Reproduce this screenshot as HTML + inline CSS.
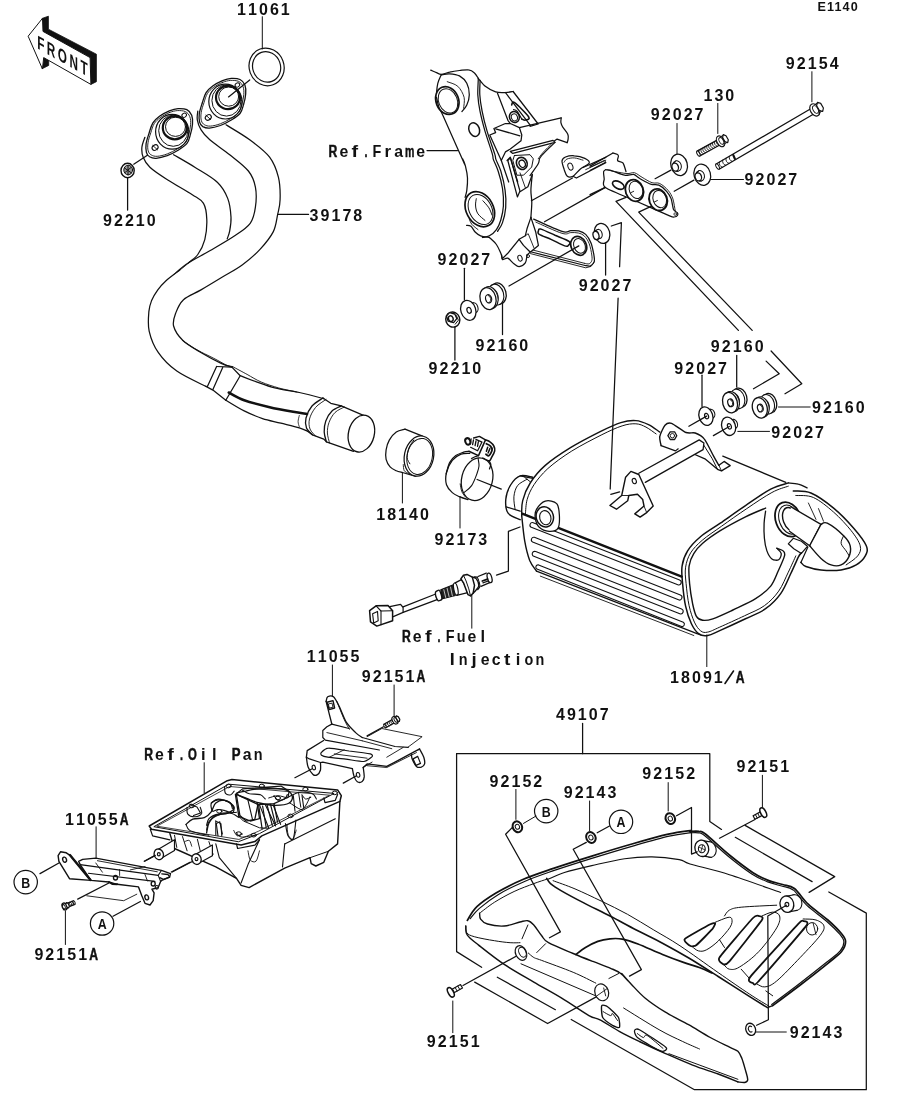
<!DOCTYPE html>
<html><head><meta charset="utf-8"><title>Exhaust diagram</title>
<style>html,body{margin:0;padding:0;background:#fff}svg{display:block;will-change:transform;filter:grayscale(1)}text{font-family:"Liberation Sans",sans-serif;fill:#111}path,ellipse{stroke-linecap:round;stroke-linejoin:round}</style></head>
<body><svg width="914" height="1103" viewBox="0 0 914 1103">
<rect width="914" height="1103" fill="#fff"/>
<text x="817.6" y="10.5" font-size="12.6" font-weight="bold" letter-spacing="1.1">E1140</text>
<text x="241.5" y="15" font-size="16" font-weight="bold" text-anchor="middle">1</text>
<text x="252.4" y="15" font-size="16" font-weight="bold" text-anchor="middle">1</text>
<text x="263.4" y="15" font-size="16" font-weight="bold" text-anchor="middle">0</text>
<text x="274.4" y="15" font-size="16" font-weight="bold" text-anchor="middle">6</text>
<text x="285.3" y="15" font-size="16" font-weight="bold" text-anchor="middle">1</text>
<text x="107.5" y="225.7" font-size="16" font-weight="bold" text-anchor="middle">9</text>
<text x="118.5" y="225.7" font-size="16" font-weight="bold" text-anchor="middle">2</text>
<text x="129.4" y="225.7" font-size="16" font-weight="bold" text-anchor="middle">2</text>
<text x="140.3" y="225.7" font-size="16" font-weight="bold" text-anchor="middle">1</text>
<text x="151.3" y="225.7" font-size="16" font-weight="bold" text-anchor="middle">0</text>
<text x="314" y="220.6" font-size="16" font-weight="bold" text-anchor="middle">3</text>
<text x="324.9" y="220.6" font-size="16" font-weight="bold" text-anchor="middle">9</text>
<text x="335.9" y="220.6" font-size="16" font-weight="bold" text-anchor="middle">1</text>
<text x="346.9" y="220.6" font-size="16" font-weight="bold" text-anchor="middle">7</text>
<text x="357.8" y="220.6" font-size="16" font-weight="bold" text-anchor="middle">8</text>
<text transform="translate(333 156.5) scale(0.76 1)" font-size="16" font-weight="bold" text-anchor="middle" stroke="#111" stroke-width="0.5">R</text>
<text transform="translate(343.9 156.5) scale(0.99 1)" font-size="16" font-weight="bold" text-anchor="middle">e</text>
<text transform="translate(354.9 156.5) scale(1.24 1)" font-size="16" font-weight="bold" text-anchor="middle">f</text>
<text transform="translate(365.9 156.5) scale(0.67 1)" font-size="16" font-weight="bold" text-anchor="middle" stroke="#111" stroke-width="0.5">.</text>
<text transform="translate(376.8 156.5) scale(0.90 1)" font-size="16" font-weight="bold" text-anchor="middle">F</text>
<text transform="translate(387.8 156.5) scale(1.06 1)" font-size="16" font-weight="bold" text-anchor="middle">r</text>
<text transform="translate(398.7 156.5) scale(0.99 1)" font-size="16" font-weight="bold" text-anchor="middle">a</text>
<text transform="translate(409.6 156.5) scale(0.66 1)" font-size="16" font-weight="bold" text-anchor="middle" stroke="#111" stroke-width="0.5">m</text>
<text transform="translate(420.6 156.5) scale(0.99 1)" font-size="16" font-weight="bold" text-anchor="middle">e</text>
<text x="790.3" y="69.1" font-size="16" font-weight="bold" text-anchor="middle">9</text>
<text x="801.2" y="69.1" font-size="16" font-weight="bold" text-anchor="middle">2</text>
<text x="812.2" y="69.1" font-size="16" font-weight="bold" text-anchor="middle">1</text>
<text x="823.1" y="69.1" font-size="16" font-weight="bold" text-anchor="middle">5</text>
<text x="834.1" y="69.1" font-size="16" font-weight="bold" text-anchor="middle">4</text>
<text x="707.9" y="100.7" font-size="16" font-weight="bold" text-anchor="middle">1</text>
<text x="718.9" y="100.7" font-size="16" font-weight="bold" text-anchor="middle">3</text>
<text x="729.8" y="100.7" font-size="16" font-weight="bold" text-anchor="middle">0</text>
<text x="655.2" y="120.2" font-size="16" font-weight="bold" text-anchor="middle">9</text>
<text x="666.2" y="120.2" font-size="16" font-weight="bold" text-anchor="middle">2</text>
<text x="677.1" y="120.2" font-size="16" font-weight="bold" text-anchor="middle">0</text>
<text x="688.1" y="120.2" font-size="16" font-weight="bold" text-anchor="middle">2</text>
<text x="699" y="120.2" font-size="16" font-weight="bold" text-anchor="middle">7</text>
<text x="749" y="185.2" font-size="16" font-weight="bold" text-anchor="middle">9</text>
<text x="760" y="185.2" font-size="16" font-weight="bold" text-anchor="middle">2</text>
<text x="770.9" y="185.2" font-size="16" font-weight="bold" text-anchor="middle">0</text>
<text x="781.9" y="185.2" font-size="16" font-weight="bold" text-anchor="middle">2</text>
<text x="792.8" y="185.2" font-size="16" font-weight="bold" text-anchor="middle">7</text>
<text x="442" y="264.9" font-size="16" font-weight="bold" text-anchor="middle">9</text>
<text x="452.9" y="264.9" font-size="16" font-weight="bold" text-anchor="middle">2</text>
<text x="463.9" y="264.9" font-size="16" font-weight="bold" text-anchor="middle">0</text>
<text x="474.9" y="264.9" font-size="16" font-weight="bold" text-anchor="middle">2</text>
<text x="485.8" y="264.9" font-size="16" font-weight="bold" text-anchor="middle">7</text>
<text x="583.1" y="290.7" font-size="16" font-weight="bold" text-anchor="middle">9</text>
<text x="594.1" y="290.7" font-size="16" font-weight="bold" text-anchor="middle">2</text>
<text x="605" y="290.7" font-size="16" font-weight="bold" text-anchor="middle">0</text>
<text x="616" y="290.7" font-size="16" font-weight="bold" text-anchor="middle">2</text>
<text x="626.9" y="290.7" font-size="16" font-weight="bold" text-anchor="middle">7</text>
<text x="480" y="351.2" font-size="16" font-weight="bold" text-anchor="middle">9</text>
<text x="490.9" y="351.2" font-size="16" font-weight="bold" text-anchor="middle">2</text>
<text x="501.9" y="351.2" font-size="16" font-weight="bold" text-anchor="middle">1</text>
<text x="512.9" y="351.2" font-size="16" font-weight="bold" text-anchor="middle">6</text>
<text x="523.8" y="351.2" font-size="16" font-weight="bold" text-anchor="middle">0</text>
<text x="433" y="374" font-size="16" font-weight="bold" text-anchor="middle">9</text>
<text x="443.9" y="374" font-size="16" font-weight="bold" text-anchor="middle">2</text>
<text x="454.9" y="374" font-size="16" font-weight="bold" text-anchor="middle">2</text>
<text x="465.9" y="374" font-size="16" font-weight="bold" text-anchor="middle">1</text>
<text x="476.8" y="374" font-size="16" font-weight="bold" text-anchor="middle">0</text>
<text x="715.3" y="352.1" font-size="16" font-weight="bold" text-anchor="middle">9</text>
<text x="726.2" y="352.1" font-size="16" font-weight="bold" text-anchor="middle">2</text>
<text x="737.2" y="352.1" font-size="16" font-weight="bold" text-anchor="middle">1</text>
<text x="748.1" y="352.1" font-size="16" font-weight="bold" text-anchor="middle">6</text>
<text x="759.1" y="352.1" font-size="16" font-weight="bold" text-anchor="middle">0</text>
<text x="678.7" y="374" font-size="16" font-weight="bold" text-anchor="middle">9</text>
<text x="689.7" y="374" font-size="16" font-weight="bold" text-anchor="middle">2</text>
<text x="700.6" y="374" font-size="16" font-weight="bold" text-anchor="middle">0</text>
<text x="711.6" y="374" font-size="16" font-weight="bold" text-anchor="middle">2</text>
<text x="722.5" y="374" font-size="16" font-weight="bold" text-anchor="middle">7</text>
<text x="816.4" y="413.1" font-size="16" font-weight="bold" text-anchor="middle">9</text>
<text x="827.4" y="413.1" font-size="16" font-weight="bold" text-anchor="middle">2</text>
<text x="838.3" y="413.1" font-size="16" font-weight="bold" text-anchor="middle">1</text>
<text x="849.2" y="413.1" font-size="16" font-weight="bold" text-anchor="middle">6</text>
<text x="860.2" y="413.1" font-size="16" font-weight="bold" text-anchor="middle">0</text>
<text x="775.7" y="438.1" font-size="16" font-weight="bold" text-anchor="middle">9</text>
<text x="786.7" y="438.1" font-size="16" font-weight="bold" text-anchor="middle">2</text>
<text x="797.6" y="438.1" font-size="16" font-weight="bold" text-anchor="middle">0</text>
<text x="808.6" y="438.1" font-size="16" font-weight="bold" text-anchor="middle">2</text>
<text x="819.5" y="438.1" font-size="16" font-weight="bold" text-anchor="middle">7</text>
<text x="380.6" y="519.5" font-size="16" font-weight="bold" text-anchor="middle">1</text>
<text x="391.6" y="519.5" font-size="16" font-weight="bold" text-anchor="middle">8</text>
<text x="402.5" y="519.5" font-size="16" font-weight="bold" text-anchor="middle">1</text>
<text x="413.5" y="519.5" font-size="16" font-weight="bold" text-anchor="middle">4</text>
<text x="424.4" y="519.5" font-size="16" font-weight="bold" text-anchor="middle">0</text>
<text x="439" y="544.9" font-size="16" font-weight="bold" text-anchor="middle">9</text>
<text x="449.9" y="544.9" font-size="16" font-weight="bold" text-anchor="middle">2</text>
<text x="460.9" y="544.9" font-size="16" font-weight="bold" text-anchor="middle">1</text>
<text x="471.9" y="544.9" font-size="16" font-weight="bold" text-anchor="middle">7</text>
<text x="482.8" y="544.9" font-size="16" font-weight="bold" text-anchor="middle">3</text>
<text transform="translate(406.3 642.3) scale(0.76 1)" font-size="16" font-weight="bold" text-anchor="middle" stroke="#111" stroke-width="0.5">R</text>
<text transform="translate(417.2 642.3) scale(0.99 1)" font-size="16" font-weight="bold" text-anchor="middle">e</text>
<text transform="translate(428.2 642.3) scale(1.24 1)" font-size="16" font-weight="bold" text-anchor="middle">f</text>
<text transform="translate(439.1 642.3) scale(0.67 1)" font-size="16" font-weight="bold" text-anchor="middle" stroke="#111" stroke-width="0.5">.</text>
<text transform="translate(450.1 642.3) scale(0.90 1)" font-size="16" font-weight="bold" text-anchor="middle">F</text>
<text transform="translate(461.1 642.3) scale(0.90 1)" font-size="16" font-weight="bold" text-anchor="middle">u</text>
<text transform="translate(472 642.3) scale(0.99 1)" font-size="16" font-weight="bold" text-anchor="middle">e</text>
<text transform="translate(482.9 642.3) scale(1.03 1)" font-size="16" font-weight="bold" text-anchor="middle">l</text>
<text transform="translate(452.3 665) scale(1.12 1)" font-size="16" font-weight="bold" text-anchor="middle">I</text>
<text transform="translate(463.2 665) scale(0.90 1)" font-size="16" font-weight="bold" text-anchor="middle">n</text>
<text transform="translate(474.2 665) scale(1.17 1)" font-size="16" font-weight="bold" text-anchor="middle">j</text>
<text transform="translate(485.1 665) scale(0.99 1)" font-size="16" font-weight="bold" text-anchor="middle">e</text>
<text transform="translate(496.1 665) scale(0.99 1)" font-size="16" font-weight="bold" text-anchor="middle">c</text>
<text transform="translate(507.1 665) scale(1.20 1)" font-size="16" font-weight="bold" text-anchor="middle">t</text>
<text transform="translate(518 665) scale(1.03 1)" font-size="16" font-weight="bold" text-anchor="middle">i</text>
<text transform="translate(529 665) scale(0.90 1)" font-size="16" font-weight="bold" text-anchor="middle">o</text>
<text transform="translate(539.9 665) scale(0.90 1)" font-size="16" font-weight="bold" text-anchor="middle">n</text>
<text x="674.5" y="683" font-size="16" font-weight="bold" text-anchor="middle">1</text>
<text x="685.5" y="683" font-size="16" font-weight="bold" text-anchor="middle">8</text>
<text x="696.4" y="683" font-size="16" font-weight="bold" text-anchor="middle">0</text>
<text x="707.4" y="683" font-size="16" font-weight="bold" text-anchor="middle">9</text>
<text x="718.3" y="683" font-size="16" font-weight="bold" text-anchor="middle">1</text>
<path d="M725 683.5 L733.5 671" fill="none" stroke="#111" stroke-width="1.6" />
<text transform="translate(740.2 683) scale(0.76 1)" font-size="16" font-weight="bold" text-anchor="middle" stroke="#111" stroke-width="0.5">A</text>
<text x="311.2" y="662.3" font-size="16" font-weight="bold" text-anchor="middle">1</text>
<text x="322.1" y="662.3" font-size="16" font-weight="bold" text-anchor="middle">1</text>
<text x="333.1" y="662.3" font-size="16" font-weight="bold" text-anchor="middle">0</text>
<text x="344" y="662.3" font-size="16" font-weight="bold" text-anchor="middle">5</text>
<text x="355" y="662.3" font-size="16" font-weight="bold" text-anchor="middle">5</text>
<text x="366.2" y="682.3" font-size="16" font-weight="bold" text-anchor="middle">9</text>
<text x="377.1" y="682.3" font-size="16" font-weight="bold" text-anchor="middle">2</text>
<text x="388.1" y="682.3" font-size="16" font-weight="bold" text-anchor="middle">1</text>
<text x="399" y="682.3" font-size="16" font-weight="bold" text-anchor="middle">5</text>
<text x="410" y="682.3" font-size="16" font-weight="bold" text-anchor="middle">1</text>
<text transform="translate(420.9 682.3) scale(0.76 1)" font-size="16" font-weight="bold" text-anchor="middle" stroke="#111" stroke-width="0.5">A</text>
<text transform="translate(148.6 760.1) scale(0.76 1)" font-size="16" font-weight="bold" text-anchor="middle" stroke="#111" stroke-width="0.5">R</text>
<text transform="translate(159.5 760.1) scale(0.99 1)" font-size="16" font-weight="bold" text-anchor="middle">e</text>
<text transform="translate(170.5 760.1) scale(1.24 1)" font-size="16" font-weight="bold" text-anchor="middle">f</text>
<text transform="translate(181.4 760.1) scale(0.67 1)" font-size="16" font-weight="bold" text-anchor="middle" stroke="#111" stroke-width="0.5">.</text>
<text transform="translate(192.4 760.1) scale(0.71 1)" font-size="16" font-weight="bold" text-anchor="middle" stroke="#111" stroke-width="0.5">O</text>
<text transform="translate(203.3 760.1) scale(1.03 1)" font-size="16" font-weight="bold" text-anchor="middle">i</text>
<text transform="translate(214.3 760.1) scale(1.03 1)" font-size="16" font-weight="bold" text-anchor="middle">l</text>
<text transform="translate(236.2 760.1) scale(0.82 1)" font-size="16" font-weight="bold" text-anchor="middle" stroke="#111" stroke-width="0.5">P</text>
<text transform="translate(247.1 760.1) scale(0.99 1)" font-size="16" font-weight="bold" text-anchor="middle">a</text>
<text transform="translate(258.1 760.1) scale(0.90 1)" font-size="16" font-weight="bold" text-anchor="middle">n</text>
<text x="69.5" y="824.5" font-size="16" font-weight="bold" text-anchor="middle">1</text>
<text x="80.5" y="824.5" font-size="16" font-weight="bold" text-anchor="middle">1</text>
<text x="91.4" y="824.5" font-size="16" font-weight="bold" text-anchor="middle">0</text>
<text x="102.3" y="824.5" font-size="16" font-weight="bold" text-anchor="middle">5</text>
<text x="113.3" y="824.5" font-size="16" font-weight="bold" text-anchor="middle">5</text>
<text transform="translate(124.2 824.5) scale(0.76 1)" font-size="16" font-weight="bold" text-anchor="middle" stroke="#111" stroke-width="0.5">A</text>
<text x="38.9" y="959.6" font-size="16" font-weight="bold" text-anchor="middle">9</text>
<text x="49.8" y="959.6" font-size="16" font-weight="bold" text-anchor="middle">2</text>
<text x="60.8" y="959.6" font-size="16" font-weight="bold" text-anchor="middle">1</text>
<text x="71.8" y="959.6" font-size="16" font-weight="bold" text-anchor="middle">5</text>
<text x="82.7" y="959.6" font-size="16" font-weight="bold" text-anchor="middle">1</text>
<text transform="translate(93.7 959.6) scale(0.76 1)" font-size="16" font-weight="bold" text-anchor="middle" stroke="#111" stroke-width="0.5">A</text>
<text x="560.4" y="719.7" font-size="16" font-weight="bold" text-anchor="middle">4</text>
<text x="571.4" y="719.7" font-size="16" font-weight="bold" text-anchor="middle">9</text>
<text x="582.3" y="719.7" font-size="16" font-weight="bold" text-anchor="middle">1</text>
<text x="593.2" y="719.7" font-size="16" font-weight="bold" text-anchor="middle">0</text>
<text x="604.2" y="719.7" font-size="16" font-weight="bold" text-anchor="middle">7</text>
<text x="494" y="786.7" font-size="16" font-weight="bold" text-anchor="middle">9</text>
<text x="504.9" y="786.7" font-size="16" font-weight="bold" text-anchor="middle">2</text>
<text x="515.9" y="786.7" font-size="16" font-weight="bold" text-anchor="middle">1</text>
<text x="526.9" y="786.7" font-size="16" font-weight="bold" text-anchor="middle">5</text>
<text x="537.8" y="786.7" font-size="16" font-weight="bold" text-anchor="middle">2</text>
<text x="568.1" y="797.7" font-size="16" font-weight="bold" text-anchor="middle">9</text>
<text x="579.1" y="797.7" font-size="16" font-weight="bold" text-anchor="middle">2</text>
<text x="590" y="797.7" font-size="16" font-weight="bold" text-anchor="middle">1</text>
<text x="601" y="797.7" font-size="16" font-weight="bold" text-anchor="middle">4</text>
<text x="611.9" y="797.7" font-size="16" font-weight="bold" text-anchor="middle">3</text>
<text x="646.8" y="779.3" font-size="16" font-weight="bold" text-anchor="middle">9</text>
<text x="657.8" y="779.3" font-size="16" font-weight="bold" text-anchor="middle">2</text>
<text x="668.7" y="779.3" font-size="16" font-weight="bold" text-anchor="middle">1</text>
<text x="679.6" y="779.3" font-size="16" font-weight="bold" text-anchor="middle">5</text>
<text x="690.6" y="779.3" font-size="16" font-weight="bold" text-anchor="middle">2</text>
<text x="740.9" y="772" font-size="16" font-weight="bold" text-anchor="middle">9</text>
<text x="751.9" y="772" font-size="16" font-weight="bold" text-anchor="middle">2</text>
<text x="762.8" y="772" font-size="16" font-weight="bold" text-anchor="middle">1</text>
<text x="773.8" y="772" font-size="16" font-weight="bold" text-anchor="middle">5</text>
<text x="784.7" y="772" font-size="16" font-weight="bold" text-anchor="middle">1</text>
<text x="431.3" y="1047" font-size="16" font-weight="bold" text-anchor="middle">9</text>
<text x="442.2" y="1047" font-size="16" font-weight="bold" text-anchor="middle">2</text>
<text x="453.2" y="1047" font-size="16" font-weight="bold" text-anchor="middle">1</text>
<text x="464.1" y="1047" font-size="16" font-weight="bold" text-anchor="middle">5</text>
<text x="475.1" y="1047" font-size="16" font-weight="bold" text-anchor="middle">1</text>
<text x="794.1" y="1038.4" font-size="16" font-weight="bold" text-anchor="middle">9</text>
<text x="805.1" y="1038.4" font-size="16" font-weight="bold" text-anchor="middle">2</text>
<text x="816" y="1038.4" font-size="16" font-weight="bold" text-anchor="middle">1</text>
<text x="827" y="1038.4" font-size="16" font-weight="bold" text-anchor="middle">4</text>
<text x="837.9" y="1038.4" font-size="16" font-weight="bold" text-anchor="middle">3</text>
<ellipse cx="25.7" cy="882.1" rx="11.7" ry="11.7" fill="none" stroke="#111" stroke-width="1.2"/>
<text transform="translate(25.7 887.7) scale(0.8 1)" font-size="15.5" font-weight="bold" text-anchor="middle">B</text>
<ellipse cx="102.1" cy="923.5" rx="11.7" ry="11.7" fill="none" stroke="#111" stroke-width="1.2"/>
<text transform="translate(102.1 929.1) scale(0.8 1)" font-size="15.5" font-weight="bold" text-anchor="middle">A</text>
<ellipse cx="546.2" cy="811.1" rx="11.7" ry="11.7" fill="none" stroke="#111" stroke-width="1.2"/>
<text transform="translate(546.2 816.7) scale(0.8 1)" font-size="15.5" font-weight="bold" text-anchor="middle">B</text>
<ellipse cx="621" cy="821.8" rx="11.7" ry="11.7" fill="none" stroke="#111" stroke-width="1.2"/>
<text transform="translate(621 827.4) scale(0.8 1)" font-size="15.5" font-weight="bold" text-anchor="middle">A</text>
<path d="M262.3 16.7 L262.3 49" fill="none" stroke="#111" stroke-width="1" />
<path d="M811.9 71.7 L811.9 101.8" fill="none" stroke="#111" stroke-width="1" />
<path d="M717.8 103.4 L717.8 133.5" fill="none" stroke="#111" stroke-width="1" />
<path d="M677 123.5 L677 154" fill="none" stroke="#111" stroke-width="1" />
<path d="M710 179.5 L743.5 179.5" fill="none" stroke="#111" stroke-width="1" />
<path d="M402.4 473 L402.4 503" fill="none" stroke="#111" stroke-width="1" />
<path d="M460 496.4 L460 528" fill="none" stroke="#111" stroke-width="1" />
<path d="M471.8 594.9 L471.8 628.2" fill="none" stroke="#111" stroke-width="1" />
<path d="M332.4 665 L332.4 696.7" fill="none" stroke="#111" stroke-width="1" />
<path d="M394.1 685 L394.1 716.6" fill="none" stroke="#111" stroke-width="1" />
<path d="M706.8 634.9 L706.8 666.6" fill="none" stroke="#111" stroke-width="1" />
<path d="M778.5 407 L810.2 407" fill="none" stroke="#111" stroke-width="1" />
<path d="M737.8 431.4 L769.5 431.4" fill="none" stroke="#111" stroke-width="1" />
<path d="M204.2 762.7 L204.2 792.7" fill="none" stroke="#111" stroke-width="1" />
<path d="M96.1 826.8 L96.1 857.8" fill="none" stroke="#111" stroke-width="1" />
<path d="M65.4 911.2 L65.4 944.5" fill="none" stroke="#111" stroke-width="1" />
<path d="M515.9 789.4 L515.9 819.4" fill="none" stroke="#111" stroke-width="1" />
<path d="M589.6 801 L589.6 831" fill="none" stroke="#111" stroke-width="1" />
<path d="M452.8 1001 L452.8 1032.7" fill="none" stroke="#111" stroke-width="1" />
<path d="M523.5 823.4 L535.9 816.1" fill="none" stroke="#111" stroke-width="1" />
<path d="M668.2 782.6 L668.2 811" fill="none" stroke="#111" stroke-width="1" />
<path d="M762.4 775.3 L762.4 807.5" fill="none" stroke="#111" stroke-width="1" />
<path d="M756.4 1032 L786.3 1032" fill="none" stroke="#111" stroke-width="1" />
<path d="M42.5 18.3 L48.4 16.2 L48.4 29.2 L96.4 54.2 L96.4 81.7 L90.9 84.4 L90.1 57.6 L43 31.4Z" fill="#111" stroke="#111" stroke-width="0.8" />
<path d="M43.7 57.6 L48.7 60.4 L48.7 65.4 L42.5 68.6Z" fill="#111" stroke="#111" stroke-width="0.8" />
<path d="M28.4 35.9 L42.5 18.3 L43 31.4 L90.1 57.6 L90.9 84.4 L43.7 57.6 L42.5 68.6Z" fill="#fff" stroke="#111" stroke-width="1" />
<g transform="translate(37.2,48.3) matrix(1 0.56 0 1 0 0) scale(0.62 1)"><text x="0" y="0" font-size="19" font-weight="bold" letter-spacing="4.0">FRONT</text></g>
<ellipse cx="266.6" cy="66.9" rx="17.4" ry="19" fill="none" stroke="#111" stroke-width="1.2" transform="rotate(-20 266.6 66.9)"/>
<ellipse cx="266.6" cy="66.9" rx="13.9" ry="15.4" fill="none" stroke="#111" stroke-width="1.2" transform="rotate(-20 266.6 66.9)"/>
<path d="M226 124.8 C229.9 127.3 242.4 134.4 249.7 139.8 C257 145.2 264.9 151 269.6 157.2 C274.4 163.5 276.6 170.1 278.4 177.2 C280.1 184.3 280.3 193.4 280.1 199.6 C280 205.9 278.8 209.2 277.6 214.6 C276.5 220 276.1 226.1 273.2 231.9 C270.2 237.7 265.1 243.9 260 249.4 C254.9 254.9 248.7 260.2 242.5 264.7 C236.3 269.3 229.8 272.6 222.8 276.8 C215.9 281 207.5 286.1 201 289.9 C194.4 293.7 187.7 295.9 183.5 299.7 C179.3 303.6 177.4 308.5 175.8 312.9 C174.2 317.2 172.4 321.4 173.6 326 C174.8 330.6 178.3 336 182.9 340.5 C187.5 344.9 194.9 348.9 201.3 352.7 C207.7 356.5 216.1 361 221.2 363.4 C226.3 365.8 230.1 366.5 231.9 367.1" fill="none" stroke="#111" stroke-width="1.25" />
<path d="M197.8 111.1 C197.7 112.5 196.8 116.7 197.3 119.8 C197.8 122.9 199 126.5 201.1 129.8 C203.1 133.1 205 135.6 209.8 139.8 C214.6 143.9 223.3 149.6 229.7 154.7 C236.2 159.9 244.2 165.6 248.4 171 C252.7 176.4 254.3 181.1 255.4 187.2 C256.6 193.2 256.3 201.1 255.4 207.1 C254.6 213.2 253.6 218.6 250.2 223.3 C246.7 228.1 241.5 231.2 234.7 235.8 C228 240.4 217.5 246.3 209.8 250.8 C202.1 255.3 194.3 259 188.6 262.8 C182.8 266.5 176.8 272 175.4 273.2 C173.9 274.4 181.4 268.8 179.8 270 C178.3 271.2 169.7 277.4 166 280.7 C162.4 284 160.2 286.6 157.8 289.9 C155.4 293.2 153.1 297.1 151.6 300.6 C150.2 304.2 149.3 306.3 148.9 311.4 C148.5 316.5 147.6 324.4 149.2 331.3 C150.8 338.2 153.8 346.1 158.4 352.7 C163 359.4 168.8 365.5 176.8 371.1 C184.7 376.7 201 383.9 205.9 386.4" fill="none" stroke="#111" stroke-width="1.25" />
<path d="M144.9 137.3 C144.4 138.9 142.2 143.9 141.9 147.3 C141.6 150.6 141.8 153.9 143.2 157.2 C144.5 160.6 145.9 163.5 149.9 167.2 C153.9 171 160.3 175.1 167.4 179.7 C174.4 184.3 186.3 190.7 192.3 194.7 C198.3 198.6 201.1 199.2 203.5 203.4 C206 207.5 206.6 213.6 206.8 219.6 C207 225.6 206.3 233.7 204.8 239.6 C203.3 245.4 200.5 250.7 197.8 254.5 C195.1 258.4 190.1 261.4 188.6 262.8" fill="none" stroke="#111" stroke-width="1.25" />
<path d="M173.6 154.7 C177.1 156.8 187.5 162.6 194.8 167.2 C202.1 171.8 211.8 177 217.3 182.2 C222.8 187.4 225.5 192.6 227.7 198.4 C230 204.2 230.7 211.7 231 217.1 C231.3 222.5 230.4 227.2 229.7 230.8 C229.1 234.4 227.7 237.5 227.2 238.8" fill="none" stroke="#111" stroke-width="1.25" />
<path d="M192.3 259.5 C190.7 261 185.5 265.8 182.3 268.2 C179.2 270.7 175.1 273.4 173.6 274.5" fill="none" stroke="#111" stroke-width="0.8" />
<path d="M222.5 80.6 C225.6 79.4 228.4 78.6 231.3 78.4 C234.2 78.3 237.8 78.4 240 79.5 C242.3 80.6 243.9 82.6 244.9 85 C245.8 87.4 246 90.5 245.7 93.8 C245.5 97 244.5 101.4 243.5 104.7 C242.6 108 242.1 110.9 240 113.5 C238 116 234.6 118 231.3 120 C228 122 224 124.1 220.4 125.5 C216.7 126.8 212.3 127.9 209.4 128.1 C206.5 128.3 204.5 127.6 202.8 126.6 C201.2 125.6 200.1 124.4 199.6 122.2 C199 120 198.9 116.7 199.3 113.5 C199.8 110.2 201.3 106 202.4 102.5 C203.5 99.1 204.4 95.4 206.1 92.7 C207.8 89.9 210 88.1 212.7 86.1 C215.4 84.1 219.4 81.9 222.5 80.6Z" fill="#fff" stroke="#111" stroke-width="1.3" />
<path d="M222.5 82.4 C225.3 81.3 227.9 80.6 230.5 80.4 C233.2 80.3 236.5 80.4 238.6 81.4 C240.7 82.4 242.2 84.3 243 86.5 C243.9 88.7 244 91.5 243.8 94.5 C243.6 97.5 242.7 101.6 241.8 104.6 C240.9 107.6 240.5 110.3 238.6 112.6 C236.7 115 233.6 116.8 230.5 118.7 C227.5 120.5 223.8 122.5 220.5 123.7 C217.1 125 213.1 126 210.4 126.1 C207.7 126.3 205.9 125.6 204.4 124.7 C202.9 123.8 201.9 122.7 201.4 120.7 C200.8 118.7 200.7 115.7 201.2 112.6 C201.6 109.6 202.9 105.8 204 102.6 C205 99.4 205.8 96 207.4 93.5 C209 91 210.9 89.3 213.4 87.5 C216 85.6 219.6 83.6 222.5 82.4Z" fill="none" stroke="#111" stroke-width="0.9" />
<ellipse cx="225.4" cy="101.6" rx="16.6" ry="17.4" fill="none" stroke="#111" stroke-width="1.2"/>
<ellipse cx="226.5" cy="100.5" rx="14.6" ry="15.6" fill="none" stroke="#111" stroke-width="1.0"/>
<ellipse cx="228" cy="97.5" rx="12" ry="11.6" fill="none" stroke="#111" stroke-width="2.2"/>
<ellipse cx="228.7" cy="96.6" rx="10" ry="9.6" fill="none" stroke="#111" stroke-width="1.0"/>
<ellipse cx="237.4" cy="85" rx="2.4" ry="2" fill="none" stroke="#111" stroke-width="1.0" transform="rotate(-35 237.4 85)"/>
<ellipse cx="208.3" cy="117.4" rx="3.2" ry="2.5" fill="none" stroke="#111" stroke-width="1.1" transform="rotate(-35 208.3 117.4)"/>
<path d="M205.9 115.2 L210.7 119.6" stroke="#111" stroke-width="0.9"/>
<path d="M249.7 79.9 L228.5 96.9" stroke="#111" stroke-width="1.25"/>
<path d="M169.3 110.8 C172.4 109.6 175.2 108.8 178.1 108.6 C181 108.5 184.6 108.6 186.8 109.7 C189.1 110.8 190.7 112.8 191.7 115.2 C192.6 117.6 192.8 120.7 192.5 124 C192.3 127.2 191.3 131.6 190.3 134.9 C189.4 138.2 188.9 141.1 186.8 143.7 C184.8 146.2 181.4 148.2 178.1 150.2 C174.8 152.2 170.8 154.3 167.2 155.7 C163.5 157 159.1 158.1 156.2 158.3 C153.3 158.5 151.3 157.8 149.6 156.8 C148 155.8 146.9 154.6 146.4 152.4 C145.8 150.2 145.7 146.9 146.1 143.7 C146.6 140.4 148.1 136.2 149.2 132.7 C150.3 129.3 151.2 125.6 152.9 122.9 C154.6 120.1 156.8 118.3 159.5 116.3 C162.2 114.3 166.2 112.1 169.3 110.8Z" fill="#fff" stroke="#111" stroke-width="1.3" />
<path d="M169.3 112.6 C172.1 111.5 174.7 110.8 177.3 110.6 C180 110.5 183.3 110.6 185.4 111.6 C187.5 112.6 189 114.5 189.8 116.7 C190.7 118.9 190.8 121.7 190.6 124.7 C190.4 127.7 189.5 131.8 188.6 134.8 C187.7 137.8 187.3 140.5 185.4 142.8 C183.5 145.2 180.4 147 177.3 148.9 C174.3 150.7 170.6 152.7 167.3 153.9 C163.9 155.2 159.9 156.2 157.2 156.3 C154.5 156.5 152.7 155.8 151.2 154.9 C149.7 154 148.7 152.9 148.2 150.9 C147.6 148.9 147.5 145.9 148 142.8 C148.4 139.8 149.7 136 150.8 132.8 C151.8 129.6 152.6 126.2 154.2 123.7 C155.8 121.2 157.7 119.5 160.2 117.7 C162.8 115.8 166.4 113.8 169.3 112.6Z" fill="none" stroke="#111" stroke-width="0.9" />
<ellipse cx="172.2" cy="131.8" rx="16.6" ry="17.4" fill="none" stroke="#111" stroke-width="1.2"/>
<ellipse cx="173.3" cy="130.7" rx="14.6" ry="15.6" fill="none" stroke="#111" stroke-width="1.0"/>
<ellipse cx="174.8" cy="127.7" rx="12" ry="11.6" fill="none" stroke="#111" stroke-width="2.2"/>
<ellipse cx="175.5" cy="126.8" rx="10" ry="9.6" fill="none" stroke="#111" stroke-width="1.0"/>
<ellipse cx="184.2" cy="115.2" rx="2.4" ry="2" fill="none" stroke="#111" stroke-width="1.0" transform="rotate(-35 184.2 115.2)"/>
<ellipse cx="155.1" cy="147.6" rx="3.2" ry="2.5" fill="none" stroke="#111" stroke-width="1.1" transform="rotate(-35 155.1 147.6)"/>
<path d="M152.7 145.4 L157.5 149.8" stroke="#111" stroke-width="0.9"/>
<path d="M133.7 164.2 L147.4 155.2" stroke="#111" stroke-width="1.25"/>
<path d="M127.6 177 L127.6 210" stroke="#111" stroke-width="1.25"/>
<ellipse cx="127.6" cy="170.5" rx="6.6" ry="7.2" fill="#fff" stroke="#111" stroke-width="1.4"/>
<ellipse cx="128.2" cy="170" rx="4.4" ry="4.8" fill="#999" stroke="#111" stroke-width="1.0"/>
<path d="M124.5 168 L131.5 173 M125 172.5 L131 167.5 M128 165.5 L128 175" fill="none" stroke="#111" stroke-width="1.0" />
<path d="M277.8 214.4 L308.5 214.4" stroke="#111" stroke-width="1.25"/>
<path d="M216.6 366.5 L207.4 386.4" fill="none" stroke="#111" stroke-width="1.25" />
<path d="M222.7 367.4 L212.9 389.5" fill="none" stroke="#111" stroke-width="1.25" />
<path d="M205.9 386.4 L212.9 390.1 L225.8 400.2" fill="none" stroke="#111" stroke-width="1.25" />
<path d="M231.9 367.1 L240.2 375.7 L225.8 400.2" fill="none" stroke="#111" stroke-width="1.25" />
<path d="M216.6 366.5 L231.9 367.1" fill="none" stroke="#111" stroke-width="1.25" />
<path d="M240.2 375.7 C242.9 376.7 250.6 379.8 256.4 381.8 C262.2 383.9 267.6 386.2 274.8 387.9 C281.9 389.7 291.1 390.8 299.3 392.5 C307.5 394.3 319.7 397.6 323.8 398.7" fill="none" stroke="#111" stroke-width="1.25" />
<path d="M225.8 400.2 C228.8 402 238 407.9 244.2 410.9 C250.3 414 256.4 416.5 262.5 418.6 C268.7 420.6 274.8 421.6 280.9 423.2 C287 424.7 294.8 426.4 299.3 427.8 C303.8 429.1 306.4 430.8 307.9 431.4" fill="none" stroke="#111" stroke-width="1.25" />
<path d="M228.8 392.5 C231.4 393.8 237.5 397.8 244.2 400.2 C250.8 402.6 260.5 405 268.7 406.9 C276.8 408.9 286.8 410.7 293.2 411.8 C299.6 413 304.7 413.6 307 414" fill="none" stroke="#111" stroke-width="2.6" />
<path d="M299.3 415.5 C299.1 416.5 298.1 419.8 298.1 421.6 C298.1 423.5 299.1 426 299.3 426.8" fill="none" stroke="#111" stroke-width="0.8" />
<path d="M322.9 398 C321.1 399.3 314.8 402.7 312 406 C309.2 409.3 306.9 414.3 306 418 C305.1 421.7 305.4 425.2 306.5 428 C307.6 430.8 311.4 433.7 312.4 434.8" fill="none" stroke="#111" stroke-width="1.3" />
<path d="M326 399.5 C324.2 400.8 318.2 404.2 315.5 407.5 C312.8 410.8 310.4 415.4 309.5 419 C308.6 422.6 309 426.2 310 429 C311 431.8 314.6 434.8 315.5 436" fill="none" stroke="#111" stroke-width="0.9" />
<path d="M341.3 405.9 C339.8 406.8 334.6 408.5 332 411 C329.4 413.5 327.1 417.5 325.8 421 C324.5 424.5 324.1 428.5 324.2 432 C324.3 435.5 326 440.2 326.4 441.8" fill="none" stroke="#111" stroke-width="1.3" />
<path d="M344.3 407 C342.8 407.9 337.6 409.9 335 412.5 C332.4 415.1 330.3 419.1 329 422.5 C327.7 425.9 327.3 429.6 327.4 433 C327.5 436.4 329.2 441.3 329.6 443" fill="none" stroke="#111" stroke-width="0.9" />
<path d="M323.8 398.7 L322.9 398 L330.8 403.3 L341.3 405.9 L365.8 416.4" fill="none" stroke="#111" stroke-width="1.25" />
<path d="M307.9 431.4 L312.4 434.8 L323.8 439.1 L326.4 441.8 L353.5 451.4" fill="none" stroke="#111" stroke-width="1.25" />
<ellipse cx="361.4" cy="433.6" rx="12.9" ry="18.7" fill="#fff" stroke="#111" stroke-width="1.3" transform="rotate(14 361.4 433.6)"/>
<path d="M182.5 340.5 C184.7 341.9 190.5 346.3 195.6 349.2 C200.8 352.2 208 355.3 213.2 358 C218.3 360.6 224.1 364 226.3 365.2" fill="none" stroke="#111" stroke-width="0.9" />
<path d="M232.8 366.7 C235.2 368 242.3 371.8 247.1 374.4 C251.8 377 256 379.8 261.3 382.1 C266.6 384.3 273 386.3 278.8 388 C284.6 389.6 293.4 391.2 296.3 391.9" fill="none" stroke="#111" stroke-width="0.9" />
<path d="M226.3 365.2 L232.8 366.7" fill="none" stroke="#111" stroke-width="0.9" />
<path d="M430.7 70.2 C431.7 70.6 434.7 72 436.5 72.7 C438.3 73.4 439.2 74.4 441.4 74.3 C443.6 74.2 446.6 72.8 449.6 72.2 C452.6 71.5 456.3 70.9 459.5 70.5 C462.6 70.2 466 69.5 468.5 69.9 C471 70.2 472.6 71.2 474.2 72.7 C475.9 74.1 477.7 77.5 478.3 78.4" fill="none" stroke="#111" stroke-width="1.25" />
<path d="M441.4 74.8 C442.8 74.6 446.6 73.6 449.6 73.8 C452.6 74 456.6 74.4 459.5 75.9 C462.3 77.5 465.2 80.2 466.8 83.3 C468.5 86.5 469.3 91.2 469.3 94.8 C469.3 98.4 468.1 102.2 466.8 105 C465.6 107.8 462.7 110.5 461.9 111.6" fill="none" stroke="#111" stroke-width="1.25" />
<path d="M447.2 81.7 C448.9 82.5 455 83.7 457.8 86.3 C460.6 88.9 463.1 93.6 464.1 97.3 C465 100.9 463.6 106.4 463.6 108.3" fill="none" stroke="#111" stroke-width="0.9" />
<path d="M441.4 74.5 C440.8 75.9 438.6 80.2 437.8 83.3 C437 86.5 436.7 91.5 436.5 93.2" fill="none" stroke="#111" stroke-width="1.25" />
<ellipse cx="447.3" cy="100.6" rx="11.3" ry="14.3" fill="none" stroke="#111" stroke-width="1.6" transform="rotate(-22 447.3 100.6)"/>
<ellipse cx="448" cy="100.9" rx="9.3" ry="12.6" fill="none" stroke="#111" stroke-width="1.0" transform="rotate(-22 448 100.9)"/>
<path d="M436.5 97.3 C436.9 98.9 437.8 103.9 438.9 107.1 C440.1 110.3 440.2 109.5 443.4 116.5 C446.5 123.5 454.2 140.8 457.8 149 C461.5 157.1 464.4 163.8 465.2 165.4 C466 167 462.6 158.7 462.6 158.8 C462.6 158.8 464.6 162.5 465.4 165.8 C466.2 169 467.3 173.9 467.5 178 C467.7 182.1 467.2 187.1 466.8 190.3 C466.4 193.5 465.3 196.1 465.1 197.3" fill="none" stroke="#111" stroke-width="1.25" />
<path d="M478.3 78.4 C478.3 81.1 477.6 89.4 477.8 94.8 C478.1 100.3 478.8 105.2 480 111.2 C481.2 117.3 482.9 123.8 484.9 130.9 C487 138 490.9 149.1 492.3 153.9 C493.7 158.7 492.4 156.8 493.4 159.6 C494.4 162.5 496.6 166.2 498.1 171 C499.7 175.8 501.6 182.7 502.5 188.5 C503.4 194.3 503.7 200.8 503.4 206 C503.1 211.3 501.9 216.1 500.8 220 C499.6 224 498.3 227 496.4 229.6 C494.5 232.3 491.7 234.5 489.4 235.8 C487.1 237.1 483.6 237.2 482.4 237.5" fill="none" stroke="#111" stroke-width="1.25" />
<path d="M480.1 80.4 C480.1 82.8 479.5 89.7 479.8 94.8 C480.1 100 480.9 105.2 482.1 111.2 C483.3 117.3 484.9 123.8 487 130.9 C489.1 138 493.2 149.1 494.7 153.9 C496.2 158.7 495 156.8 496 159.6 C497 162.5 499.2 165.9 500.8 171 C502.3 176.1 504.3 184.1 505.1 190.3 C506 196.4 506.1 202.4 505.7 207.8 C505.2 213.2 503.9 218.7 502.5 222.6 C501.2 226.6 498.4 229.9 497.6 231.4" fill="none" stroke="#111" stroke-width="1.25" />
<ellipse cx="474.2" cy="129.6" rx="5.2" ry="7" fill="none" stroke="#111" stroke-width="1.5" transform="rotate(-22 474.2 129.6)"/>
<path d="M478.3 78.4 C479.6 79.8 482.9 84.4 485.7 86.6 C488.6 88.9 492.3 90.9 495.6 91.9 C498.9 92.9 502.5 92.6 505.4 92.5 C508.3 92.5 511.8 91.7 513.1 91.5" fill="none" stroke="#111" stroke-width="1.25" />
<path d="M513.1 91.5 L523.5 105 L538.2 124 L530 126.3" fill="none" stroke="#111" stroke-width="1.25" />
<path d="M505.4 92.5 L519.4 111.2 L530.4 125.3" fill="none" stroke="#111" stroke-width="1.25" />
<path d="M497.5 93.2 L507.9 120.3 L510.3 123.5 L519.4 127.6" fill="none" stroke="#111" stroke-width="1.25" />
<path d="M511.7 105 C512.1 104.6 511.8 100.7 514.6 102.7 C517.5 104.7 526.9 114.1 528.7 117 C530.5 119.9 526.6 119.7 525.4 120.1 C524.3 120.5 522.4 119.3 521.8 119.1" fill="none" stroke="#111" stroke-width="1.6" />
<path d="M521.8 119.1 C521 117.8 518.3 112.8 516.9 111.2 C515.5 109.6 514.2 109.9 513.6 109.6" fill="none" stroke="#111" stroke-width="1.2" />
<ellipse cx="514.4" cy="117" rx="4.9" ry="5.6" fill="none" stroke="#111" stroke-width="1.5" transform="rotate(-20 514.4 117)"/>
<ellipse cx="514.4" cy="117.3" rx="3" ry="3.6" fill="none" stroke="#111" stroke-width="1.0" transform="rotate(-20 514.4 117.3)"/>
<path d="M519.4 127.6 L561.2 117.8" fill="none" stroke="#111" stroke-width="1.25" />
<path d="M561.2 117.8 C561.2 118.6 560.6 121.1 560.9 122.7 C561.2 124.3 561.7 125.4 562.9 127.3 C564 129.2 566.9 132.2 567.8 134.2 C568.7 136.2 568.2 137.7 568.1 139.1 C568 140.6 567.3 142.1 567.1 142.7" fill="none" stroke="#111" stroke-width="1.25" />
<path d="M567.1 142.7 L557.1 139.1 L554.6 140.8" fill="none" stroke="#111" stroke-width="1.25" />
<path d="M519.4 127.6 L521.8 135 L521 140.8 L510.3 149 L505.4 151.9 L501.3 160.5 L489.8 135 L495.6 132.6 L493.9 128.5 L505.4 123.5 L510.3 123.5" fill="none" stroke="#111" stroke-width="1.25" />
<path d="M495.6 128.8 L519.9 135.9" fill="none" stroke="#111" stroke-width="1.25" />
<path d="M510.3 151.4 L553 140.4 L555 142.4 L512.8 153.4 L510.3 151.4" fill="none" stroke="#111" stroke-width="1.25" />
<path d="M555 142.4 C553.6 143.8 549 148 546.4 150.6 C543.9 153.2 541.2 155.8 539.9 158 C538.5 160.2 539.9 160.8 538.2 163.8 C536.6 166.7 531.4 173.6 530 175.6" fill="none" stroke="#111" stroke-width="1.25" />
<path d="M551.4 144.1 C550 145.4 545.4 149.8 543.2 152.3 C541 154.7 539.1 157.7 538.2 158.8" fill="none" stroke="#111" stroke-width="0.9" />
<path d="M514.4 155.5 L530 154.7 L533.3 158.8 L531.7 167 L523.5 175.2 L516.9 175.2 L512.8 160.5 L514.4 155.5" fill="none" stroke="#111" stroke-width="1.0" />
<ellipse cx="521.8" cy="163.4" rx="5.3" ry="6.2" fill="none" stroke="#111" stroke-width="1.6" transform="rotate(-25 521.8 163.4)"/>
<ellipse cx="522.2" cy="163.8" rx="3" ry="3.8" fill="none" stroke="#111" stroke-width="1.3" transform="rotate(-25 522.2 163.8)"/>
<path d="M507.1 160.5 L510.3 157.2 L517.7 182" fill="none" stroke="#111" stroke-width="1.25" />
<path d="M501.3 160.5 L508.7 182" fill="none" stroke="#111" stroke-width="1.25" />
<path d="M507.8 160.5 L510.4 157.9 L520 191.1 L517.4 196.9 L507.8 160.5" fill="none" stroke="#111" stroke-width="1.25" />
<path d="M532.3 174.5 L527.9 186.8 L520 191.7" fill="none" stroke="#111" stroke-width="1.25" />
<path d="M520 172.8 L525.3 187.6" fill="none" stroke="#111" stroke-width="0.9" />
<path d="M532.3 174.5 C532 177.1 531 185.6 530.9 190.3 C530.8 194.9 531.8 198 531.8 202.5 C531.8 207 531 214.9 530.9 217.4" fill="none" stroke="#111" stroke-width="1.25" />
<ellipse cx="479.8" cy="209.2" rx="13.6" ry="18.6" fill="none" stroke="#111" stroke-width="1.7" transform="rotate(-28 479.8 209.2)"/>
<ellipse cx="480.5" cy="209.5" rx="11.2" ry="16" fill="none" stroke="#111" stroke-width="1.0" transform="rotate(-28 480.5 209.5)"/>
<path d="M476.3 198.7 C476.1 199.9 475.3 203.5 475.6 206 C475.8 208.6 476.4 211.5 478 213.9 C479.6 216.3 483.8 219.3 485 220.4" fill="none" stroke="#111" stroke-width="1.0" />
<path d="M482.9 200.8 C483.9 201.9 487.3 205.4 488.9 207.8 C490.4 210.2 491.5 213.9 492 215.1" fill="none" stroke="#111" stroke-width="1.0" />
<path d="M466.6 225.3 C467.4 225.4 469.5 225.2 471 226.3 C472.5 227.5 473.8 230.7 475.4 232.3 C477 233.9 478.3 234.9 480.6 235.8 C483 236.7 487.9 237.2 489.4 237.5" fill="none" stroke="#111" stroke-width="1.25" />
<path d="M469.3 219.1 C469.7 220 470.4 222.6 471.9 224.4 C473.3 226.1 477 228.8 478 229.6" fill="none" stroke="#111" stroke-width="0.9" />
<path d="M489.4 237.5 C490.6 238.7 494.5 241.9 496.4 244.5 C498.3 247.2 499.7 250.9 500.8 253.3 C501.8 255.7 502.2 258 502.5 258.9" fill="none" stroke="#111" stroke-width="1.25" />
<path d="M501.6 255 C501.8 255.8 501.5 259.1 502.5 259.6 C503.5 260.1 505.9 257.5 507.8 258.2 C509.7 258.9 512 262.4 513.9 263.8 C515.8 265.2 517.3 266.7 519.1 266.6 C521 266.4 524 264.8 525.3 262.9 C526.6 261 526.7 256.3 527 255" fill="none" stroke="#111" stroke-width="1.25" />
<path d="M530.9 217.4 L535.8 232.3 L538.4 245.4 L530.5 251.9 L527 255" fill="none" stroke="#111" stroke-width="1.25" />
<path d="M530.9 217.4 L527 228.8 L525.3 235.8 L519.1 239.3 L507.8 253.3 L502.5 258.5" fill="none" stroke="#111" stroke-width="1.25" />
<path d="M519.1 239.3 L523.5 245.4 L529.6 251.5" fill="none" stroke="#111" stroke-width="1.25" />
<path d="M525.3 235.8 L528.2 233.7 L534 248" fill="none" stroke="#111" stroke-width="0.9" />
<ellipse cx="520" cy="258.2" rx="2.1" ry="3" fill="none" stroke="#111" stroke-width="1.0" transform="rotate(-20 520 258.2)"/>
<ellipse cx="528.1" cy="256.1" rx="1.4" ry="1.6" fill="none" stroke="#111" stroke-width="0.9"/>
<path d="M531.4 200.8 L572.5 178" stroke="#111" stroke-width="1.25"/>
<path d="M544.5 221.8 L604.9 187.6" stroke="#111" stroke-width="1.25"/>
<path d="M533.7 219.1 C538.4 221.2 555.8 229.5 562 231.4 C568.2 233.3 568 230.8 570.8 230.7 C573.6 230.6 576.2 230.3 578.7 230.9 C581.1 231.5 583.6 232.4 585.7 234.4 C587.7 236.4 589.5 239.3 590.9 242.8 C592.3 246.2 593.3 251.9 593.9 255 C594.4 258.2 594.8 259.9 594.2 261.7 C593.7 263.5 591.9 265.2 590.4 265.9 C588.9 266.5 586 265.6 585.1 265.5" fill="none" stroke="#111" stroke-width="1.25" />
<path d="M585.1 265.5 L529.6 251.5" fill="none" stroke="#111" stroke-width="1.25" />
<path d="M530.5 253.6 L585.7 267.8 L591.1 266.4 L594.2 262" fill="none" stroke="#111" stroke-width="0.9" />
<path d="M535.8 222.1 C540.2 224 556.2 231.6 562 233.3 C567.9 235.1 568.1 232.7 570.8 232.6 C573.5 232.6 576 232.4 578.3 233 C580.6 233.6 582.6 234.3 584.4 236.1 C586.3 237.9 587.9 240.5 589.2 243.7 C590.4 246.8 591.4 252.2 591.8 255 C592.2 257.9 592.2 259.2 591.8 260.6 C591.4 262.1 590.3 263.3 589.2 263.8 C588 264.3 585.5 263.5 584.8 263.4" fill="none" stroke="#111" stroke-width="0.9" />
<path d="M584.8 263.4 L533.2 250.1" fill="none" stroke="#111" stroke-width="0.9" />
<path d="M538.4 230.9 C538.7 230 538.3 228.4 541 229.1 C543.8 229.9 550.4 233.2 555 235.3 C559.7 237.3 566.8 239.7 569 241.4 C571.3 243.1 569.1 244.6 568.3 245.4 C567.6 246.2 567.5 246.9 564.7 245.9 C561.9 245 555.8 241.6 551.5 239.6 C547.3 237.7 541.5 235.8 539.3 234.4 C537.1 232.9 538.1 231.8 538.4 230.9Z" fill="none" stroke="#111" stroke-width="1.5" />
<ellipse cx="578.7" cy="245.8" rx="7.6" ry="9.8" fill="#fff" stroke="#111" stroke-width="1.7" transform="rotate(-25 578.7 245.8)"/>
<ellipse cx="579.5" cy="245.9" rx="5.6" ry="7.6" fill="none" stroke="#111" stroke-width="1.0" transform="rotate(-25 579.5 245.9)"/>
<path d="M562 160.9 C562.3 158.8 563.5 157.8 565.5 157 C567.6 156.2 571.1 155.5 574.3 155.8 C577.5 156 582.3 157.2 584.8 158.4 C587.3 159.6 589.9 161.4 589.2 163.1 C588.4 164.9 583.1 166.7 580.4 168.9 C577.7 171.1 575.1 175 572.9 176.3 C570.7 177.5 568.7 177.4 567.3 176.3 C565.8 175.1 565 171.8 564.1 169.3 C563.3 166.7 561.8 162.9 562 160.9Z" fill="none" stroke="#111" stroke-width="1.25" />
<path d="M564.1 162.3 C564.6 161.7 565.2 159.8 566.9 159.1 C568.6 158.4 571.6 157.7 574.3 157.9 C577 158.1 581.6 159.8 583 160.2" fill="none" stroke="#111" stroke-width="0.9" />
<ellipse cx="570.4" cy="166.6" rx="2.4" ry="3.6" fill="none" stroke="#111" stroke-width="1.0" transform="rotate(-20 570.4 166.6)"/>
<path d="M583 167.5 L605.8 157.4" fill="none" stroke="#111" stroke-width="1.25" />
<path d="M572.9 176.3 L576.4 178 L605.8 162.6" fill="none" stroke="#111" stroke-width="1.25" />
<path d="M585.7 169.6 L605.8 160.2" fill="none" stroke="#111" stroke-width="0.9" />
<ellipse cx="602.1" cy="233.4" rx="7.6" ry="10.2" fill="#fff" stroke="#111" stroke-width="1.3" transform="rotate(-15 602.1 233.4)"/>
<path d="M598.5 229.3 L595.3 230.8 M599.5 238.6 L596.6 240" fill="none" stroke="#111" stroke-width="1.1" />
<ellipse cx="598.9" cy="234" rx="3.2" ry="4.6" fill="#fff" stroke="#111" stroke-width="1.1" transform="rotate(-15 598.9 234)"/>
<ellipse cx="596" cy="235.4" rx="2.9" ry="4.2" fill="#fff" stroke="#111" stroke-width="1.3" transform="rotate(-15 596 235.4)"/>
<path d="M605.6 243.5 L605.6 275" stroke="#111" stroke-width="1.25"/>
<path d="M427 150.5 L457.5 150.5" stroke="#111" stroke-width="1.25"/>
<path d="M613 153 C613.9 153.4 617.6 154 618.3 155.3 C619.1 156.5 616.8 159.4 617.6 160.6 C618.3 161.9 621.5 161.1 622.9 162.9 C624.3 164.8 625.5 170.2 626 171.7" fill="none" stroke="#111" stroke-width="1.25" />
<path d="M590 166.1 L613 153" fill="none" stroke="#111" stroke-width="1.25" />
<path d="M590 167.2 L604.6 160.3 L605.6 162.2 L590 170.3" fill="none" stroke="#111" stroke-width="0.9" />
<path d="M603.8 171.1 C604.4 170 607.5 169.6 609.9 170.1 C612.3 170.6 621.7 174.7 624.5 175.2 C627.2 175.7 631.8 174 633.7 174.4 C635.5 174.9 638.5 177.9 640.5 179 C642.6 180.2 649.1 183.7 651.3 184.4 C653.4 185.1 657.1 184.3 658.9 185.1 C660.7 185.9 665.2 189.7 666.6 191.3 C668 192.9 670.4 196.8 671.2 198.9 C672 201.1 672.8 208 673.5 209.6 C674.2 211.3 676.8 212.1 677.3 212.7 C677.8 213.4 678 214.7 677.6 215.2 C677.3 215.7 675.2 216.9 674.2 217 C673.3 217.1 673.9 217.6 669.6 215.8 C665.4 214 645 205 637.5 201.7 C630 198.4 609.2 190.1 605.3 187.4 C601.4 184.8 604.4 180.9 604.2 179 C604.1 177.1 603.1 172.1 603.8 171.1Z" fill="#fff" stroke="#111" stroke-width="1.25" />
<path d="M605.3 169.5 C608.8 170.2 621.1 173 626 173.5 C630.8 174 631.7 172.1 634.4 172.7 C637.1 173.4 639.1 175.7 642.1 177.3 C645 179 649.1 181.7 652 182.7 C655 183.7 657 182.2 659.7 183.5 C662.4 184.7 665.9 187.8 668.1 190.4 C670.3 192.9 671.7 195.5 672.9 198.9 C674 202.3 674.8 208.8 675.2 210.7" fill="none" stroke="#111" stroke-width="0.9" />
<path d="M590 194.6 L605.3 187.4" fill="none" stroke="#111" stroke-width="1.25" />
<ellipse cx="618.3" cy="185.1" rx="6.3" ry="3.5" fill="none" stroke="#111" stroke-width="1.6" transform="rotate(27 618.3 185.1)"/>
<ellipse cx="634.4" cy="190.5" rx="8.9" ry="11" fill="#fff" stroke="#111" stroke-width="1.8" transform="rotate(-20 634.4 190.5)"/>
<ellipse cx="636" cy="189.9" rx="6.6" ry="8.8" fill="none" stroke="#111" stroke-width="1.0" transform="rotate(-20 636 189.9)"/>
<path d="M630.6 192.8 L633.7 191.3" stroke="#111" stroke-width="0.9"/>
<ellipse cx="658.2" cy="199.7" rx="8.9" ry="11" fill="#fff" stroke="#111" stroke-width="1.8" transform="rotate(-20 658.2 199.7)"/>
<ellipse cx="659.7" cy="199.1" rx="6.6" ry="8.8" fill="none" stroke="#111" stroke-width="1.0" transform="rotate(-20 659.7 199.1)"/>
<path d="M654.3 202 L657.4 200.5" stroke="#111" stroke-width="0.9"/>
<ellipse cx="675.2" cy="214.1" rx="1.3" ry="1.3" fill="none" stroke="#111" stroke-width="0.8"/>
<path d="M626 197.4 L616 201.4 L738.4 330.4" fill="none" stroke="#111" stroke-width="1.25" />
<path d="M650.5 206.6 L638.7 212.1 L752.2 330.4" fill="none" stroke="#111" stroke-width="1.25" />
<ellipse cx="679.1" cy="164.9" rx="8.2" ry="10.8" fill="#fff" stroke="#111" stroke-width="1.25" transform="rotate(-15 679.1 164.9)"/>
<ellipse cx="677" cy="166" rx="4.3" ry="5.3" fill="#fff" stroke="#111" stroke-width="1.0" transform="rotate(-15 677 166)"/>
<path d="M675.8 160.8 L674.2 163.1 M678.2 171.2 L676.2 171.1" fill="none" stroke="#111" stroke-width="1.0" />
<ellipse cx="675.2" cy="167.1" rx="3.2" ry="4.1" fill="#fff" stroke="#111" stroke-width="1.3" transform="rotate(-15 675.2 167.1)"/>
<ellipse cx="702.3" cy="174.7" rx="8.2" ry="10.8" fill="#fff" stroke="#111" stroke-width="1.25" transform="rotate(-15 702.3 174.7)"/>
<ellipse cx="700.1" cy="175.8" rx="4.3" ry="5.3" fill="#fff" stroke="#111" stroke-width="1.0" transform="rotate(-15 700.1 175.8)"/>
<path d="M698.9 170.6 L697.3 172.9 M701.3 181 L699.3 180.9" fill="none" stroke="#111" stroke-width="1.0" />
<ellipse cx="698.3" cy="176.9" rx="3.2" ry="4.1" fill="#fff" stroke="#111" stroke-width="1.3" transform="rotate(-15 698.3 176.9)"/>
<path d="M655.1 178.7 L670.9 170.1" stroke="#111" stroke-width="1.25"/>
<path d="M674.2 191.3 L693.9 180.1" stroke="#111" stroke-width="1.25"/>
<path d="M699.8 156 L722 143.8 M697.1 151.1 L719.3 138.9" fill="none" stroke="#111" stroke-width="1.25" />
<ellipse cx="698.4" cy="153.6" rx="1.3" ry="2.8" fill="#fff" stroke="#111" stroke-width="1.0" transform="rotate(-28.9 698.4 153.6)"/>
<path d="M701.7 154.9 Q698.2 153.7 699 150" fill="none" stroke="#111" stroke-width="0.9" />
<path d="M703.7 153.9 Q700.1 152.6 701 149" fill="none" stroke="#111" stroke-width="0.9" />
<path d="M705.6 152.8 Q702 151.6 702.9 147.9" fill="none" stroke="#111" stroke-width="0.9" />
<path d="M707.6 151.7 Q704 150.5 704.8 146.8" fill="none" stroke="#111" stroke-width="0.9" />
<path d="M709.5 150.7 Q705.9 149.4 706.8 145.8" fill="none" stroke="#111" stroke-width="0.9" />
<path d="M711.4 149.6 Q707.9 148.4 708.7 144.7" fill="none" stroke="#111" stroke-width="0.9" />
<path d="M713.4 148.5 Q709.8 147.3 710.7 143.6" fill="none" stroke="#111" stroke-width="0.9" />
<path d="M715.3 147.4 Q711.8 146.2 712.6 142.5" fill="none" stroke="#111" stroke-width="0.9" />
<path d="M717.3 146.4 Q713.7 145.1 714.6 141.5" fill="none" stroke="#111" stroke-width="0.9" />
<path d="M719.2 145.3 Q715.7 144.1 716.5 140.4" fill="none" stroke="#111" stroke-width="0.9" />
<path d="M721.2 144.2 Q717.6 143 718.4 139.3" fill="none" stroke="#111" stroke-width="0.9" />
<ellipse cx="720.6" cy="141.3" rx="3.6" ry="5.8" fill="#fff" stroke="#111" stroke-width="1.2" transform="rotate(-28.9 720.6 141.3)"/>
<path d="M723.9 144.1 L727.4 142.2 M720.9 136.6 L723.5 135.1" fill="none" stroke="#111" stroke-width="1.0" />
<path d="M728.3 139.8 L727.7 142.7 L724.9 141.6 L722.6 137.6 L723.2 134.6 L726 135.7Z" fill="#fff" stroke="#111" stroke-width="1.2" />
<ellipse cx="721.3" cy="140.9" rx="2" ry="3.6" fill="none" stroke="#111" stroke-width="0.9" transform="rotate(-28.9 721.3 140.9)"/>
<path d="M719.1 169.2 L816.3 112.5 M716.1 164 L813.3 107.3" fill="none" stroke="#111" stroke-width="1.25" />
<ellipse cx="717.6" cy="166.6" rx="1.4" ry="3" fill="#fff" stroke="#111" stroke-width="1.0" transform="rotate(-30.2 717.6 166.6)"/>
<path d="M722.4 167.3 Q718.5 166 719.4 162.1" fill="none" stroke="#111" stroke-width="0.9" />
<path d="M725.7 165.3 Q721.9 164.1 722.7 160.1" fill="none" stroke="#111" stroke-width="0.9" />
<path d="M729 163.4 Q725.2 162.2 726 158.2" fill="none" stroke="#111" stroke-width="0.9" />
<path d="M732.3 161.5 Q728.5 160.2 729.3 156.3" fill="none" stroke="#111" stroke-width="0.9" />
<ellipse cx="814.8" cy="109.9" rx="4.4" ry="6.6" fill="#fff" stroke="#111" stroke-width="1.2" transform="rotate(-30.2 814.8 109.9)"/>
<path d="M818.5 113.1 L822.3 110.9 M814.7 104.7 L817.7 102.9" fill="none" stroke="#111" stroke-width="1.0" />
<path d="M823.4 108 L822.7 111.5 L819.3 110.4 L816.6 105.8 L817.4 102.3 L820.7 103.4Z" fill="#fff" stroke="#111" stroke-width="1.2" />
<ellipse cx="815.5" cy="109.5" rx="2.4" ry="4.1" fill="none" stroke="#111" stroke-width="0.9" transform="rotate(-30.2 815.5 109.5)"/>
<path d="M733.3 155.1 L734.9 158.9" stroke="#111" stroke-width="2.2"/>
<path d="M509 286 L578.8 245.9" stroke="#111" stroke-width="1.25"/>
<ellipse cx="498.5" cy="293.4" rx="7.5" ry="10.6" fill="#fff" stroke="#111" stroke-width="1.3" transform="rotate(-15 498.5 293.4)"/>
<ellipse cx="496.1" cy="294.6" rx="7.5" ry="10.6" fill="#fff" stroke="#111" stroke-width="1.1" transform="rotate(-15 496.1 294.6)"/>
<ellipse cx="493" cy="296.1" rx="4.9" ry="7.4" fill="#fff" stroke="#111" stroke-width="1.1" transform="rotate(-15 493 296.1)"/>
<ellipse cx="490" cy="297.6" rx="7.9" ry="11.2" fill="#fff" stroke="#111" stroke-width="1.1" transform="rotate(-15 490 297.6)"/>
<ellipse cx="488" cy="298.6" rx="7.9" ry="11.2" fill="#fff" stroke="#111" stroke-width="1.3" transform="rotate(-15 488 298.6)"/>
<ellipse cx="488.6" cy="298.8" rx="3" ry="4.2" fill="none" stroke="#111" stroke-width="1.2" transform="rotate(-15 488.6 298.8)"/>
<path d="M488.2 295.4 A2.4 3.6 -15 0 1 489.6 302.2" fill="none" stroke="#111" stroke-width="0.9" />
<ellipse cx="474.3" cy="307.7" rx="3.6" ry="5" fill="#fff" stroke="#111" stroke-width="1.1" transform="rotate(-18 474.3 307.7)"/>
<path d="M469.8 304.9 L473.5 302.8 L475.9 312.5 L471.8 314.7 Z" fill="#fff" stroke="none" stroke-width="1.25" />
<path d="M469.8 304.1 L473.3 302.8" stroke="#111" stroke-width="1.1"/>
<path d="M472.3 314.5 L475.7 312.5" stroke="#111" stroke-width="1.1"/>
<ellipse cx="468.3" cy="310.3" rx="7.4" ry="10.2" fill="#fff" stroke="#111" stroke-width="1.3" transform="rotate(-18 468.3 310.3)"/>
<ellipse cx="469.1" cy="310.3" rx="2.1" ry="3" fill="none" stroke="#111" stroke-width="1.2" transform="rotate(-18 469.1 310.3)"/>
<ellipse cx="452.8" cy="319.6" rx="7" ry="7.6" fill="#fff" stroke="#111" stroke-width="1.4" transform="rotate(-20 452.8 319.6)"/>
<path d="M446.4 316 L449.6 312.6 L454.8 314 L456.8 318.6 L453.6 322.6 L448.2 321.2Z" fill="#fff" stroke="#111" stroke-width="1.3" />
<path d="M456.4 315.6 L458.4 320.2 L455.2 324.2" fill="none" stroke="#111" stroke-width="1.0" />
<ellipse cx="450.8" cy="318.6" rx="2.3" ry="2.9" fill="none" stroke="#111" stroke-width="1.4" transform="rotate(-20 450.8 318.6)"/>
<path d="M464.4 268.3 L464.4 299.5" stroke="#111" stroke-width="1.25"/>
<path d="M502.5 303 L502.5 334.6" stroke="#111" stroke-width="1.25"/>
<path d="M454.9 327 L454.9 360" stroke="#111" stroke-width="1.25"/>
<path d="M766.1 361.1 L779.2 373.7 L753.5 388.8" fill="none" stroke="#111" stroke-width="1.25" />
<path d="M771.1 351 L801.8 383.8 L785 393.8" fill="none" stroke="#111" stroke-width="1.25" />
<path d="M611.3 226 L621.4 222.7 L619.6 266.7" fill="none" stroke="#111" stroke-width="1.25" />
<path d="M618.1 298.2 L610.2 489" fill="none" stroke="#111" stroke-width="1.25" />
<ellipse cx="739.8" cy="397.8" rx="7" ry="9.9" fill="#fff" stroke="#111" stroke-width="1.3" transform="rotate(-15 739.8 397.8)"/>
<ellipse cx="737.6" cy="398.9" rx="7" ry="9.9" fill="#fff" stroke="#111" stroke-width="1.1" transform="rotate(-15 737.6 398.9)"/>
<ellipse cx="734.7" cy="400.3" rx="4.6" ry="6.9" fill="#fff" stroke="#111" stroke-width="1.1" transform="rotate(-15 734.7 400.3)"/>
<ellipse cx="731.9" cy="401.7" rx="7.3" ry="10.4" fill="#fff" stroke="#111" stroke-width="1.1" transform="rotate(-15 731.9 401.7)"/>
<ellipse cx="730" cy="402.6" rx="7.3" ry="10.4" fill="#fff" stroke="#111" stroke-width="1.3" transform="rotate(-15 730 402.6)"/>
<ellipse cx="730.6" cy="402.8" rx="2.8" ry="3.9" fill="none" stroke="#111" stroke-width="1.2" transform="rotate(-15 730.6 402.8)"/>
<path d="M730.2 399.7 A2.2 3.3 -15 0 1 731.5 406" fill="none" stroke="#111" stroke-width="0.9" />
<ellipse cx="769.5" cy="403.1" rx="7" ry="9.9" fill="#fff" stroke="#111" stroke-width="1.3" transform="rotate(-15 769.5 403.1)"/>
<ellipse cx="767.3" cy="404.2" rx="7" ry="9.9" fill="#fff" stroke="#111" stroke-width="1.1" transform="rotate(-15 767.3 404.2)"/>
<ellipse cx="764.4" cy="405.6" rx="4.6" ry="6.9" fill="#fff" stroke="#111" stroke-width="1.1" transform="rotate(-15 764.4 405.6)"/>
<ellipse cx="761.6" cy="407" rx="7.3" ry="10.4" fill="#fff" stroke="#111" stroke-width="1.1" transform="rotate(-15 761.6 407)"/>
<ellipse cx="759.8" cy="407.9" rx="7.3" ry="10.4" fill="#fff" stroke="#111" stroke-width="1.3" transform="rotate(-15 759.8 407.9)"/>
<ellipse cx="760.3" cy="408.1" rx="2.8" ry="3.9" fill="none" stroke="#111" stroke-width="1.2" transform="rotate(-15 760.3 408.1)"/>
<path d="M760 404.9 A2.2 3.3 -15 0 1 761.3 411.2" fill="none" stroke="#111" stroke-width="0.9" />
<ellipse cx="711.4" cy="413.7" rx="3.3" ry="4.6" fill="#fff" stroke="#111" stroke-width="1.1" transform="rotate(-18 711.4 413.7)"/>
<path d="M707.2 411.2 L710.6 409.2 L712.9 418.2 L709.1 420.2 Z" fill="#fff" stroke="none" stroke-width="1.25" />
<path d="M707.2 410.4 L710.5 409.2" stroke="#111" stroke-width="1.1"/>
<path d="M709.5 420 L712.7 418.2" stroke="#111" stroke-width="1.1"/>
<ellipse cx="705.9" cy="416.1" rx="6.8" ry="9.4" fill="#fff" stroke="#111" stroke-width="1.3" transform="rotate(-18 705.9 416.1)"/>
<ellipse cx="706.6" cy="416.1" rx="1.9" ry="2.8" fill="none" stroke="#111" stroke-width="1.2" transform="rotate(-18 706.6 416.1)"/>
<ellipse cx="734.1" cy="423.9" rx="3.3" ry="4.6" fill="#fff" stroke="#111" stroke-width="1.1" transform="rotate(-18 734.1 423.9)"/>
<path d="M730 421.3 L733.4 419.4 L735.6 428.3 L731.8 430.3 Z" fill="#fff" stroke="none" stroke-width="1.25" />
<path d="M730 420.6 L733.2 419.4" stroke="#111" stroke-width="1.1"/>
<path d="M732.3 430.1 L735.4 428.3" stroke="#111" stroke-width="1.1"/>
<ellipse cx="728.6" cy="426.3" rx="6.8" ry="9.4" fill="#fff" stroke="#111" stroke-width="1.3" transform="rotate(-18 728.6 426.3)"/>
<ellipse cx="729.4" cy="426.3" rx="1.9" ry="2.8" fill="none" stroke="#111" stroke-width="1.2" transform="rotate(-18 729.4 426.3)"/>
<path d="M688.9 426.3 L706.6 416.1" stroke="#111" stroke-width="1.25"/>
<path d="M713.4 435.6 L729.3 426.5" stroke="#111" stroke-width="1.25"/>
<path d="M736.7 355.4 L736.7 387" stroke="#111" stroke-width="1.25"/>
<path d="M702 375.2 L702 406.5" stroke="#111" stroke-width="1.25"/>
<path d="M405 429.1 C403.6 429.6 398.9 430.1 396.3 431.9 C393.6 433.7 390.9 437.2 389.3 440.1 C387.6 443.1 386.6 446.5 386.1 449.8 C385.6 453 385.4 456.5 386.1 459.4 C386.8 462.2 388.4 465 390.1 466.9 C391.8 468.8 394.2 469.8 396.3 470.8 C398.3 471.7 401.4 472.2 402.4 472.5" fill="none" stroke="#111" stroke-width="1.25" />
<path d="M405 429.1 L422.5 436.1" stroke="#111" stroke-width="1.25"/>
<path d="M402.4 472.5 L415.9 476.4" stroke="#111" stroke-width="1.25"/>
<ellipse cx="419" cy="456.1" rx="14.6" ry="20.3" fill="#fff" stroke="#111" stroke-width="1.25" transform="rotate(12 419 456.1)"/>
<ellipse cx="419.7" cy="456.4" rx="12.6" ry="18.2" fill="none" stroke="#111" stroke-width="1.0" transform="rotate(12 419.7 456.4)"/>
<path d="M403.3 464.6 C403.4 465.7 403.4 469.3 404.3 470.8 C405.2 472.2 407.8 473 408.5 473.4" fill="none" stroke="#111" stroke-width="0.9" />
<path d="M469.8 453.3 C468.3 453.4 463.9 453 461 454.1 C458.1 455.3 454.7 457.2 452.3 460.3 C449.9 463.3 447.5 468.4 446.5 472.5 C445.5 476.6 445.5 481.4 446.5 484.8 C447.5 488.1 450.1 490.7 452.3 492.6 C454.4 494.6 456.7 495.5 459.3 496.7 C461.9 497.8 466.6 499.2 468 499.6" fill="none" stroke="#111" stroke-width="1.25" />
<ellipse cx="477.1" cy="479.2" rx="15.4" ry="21.6" fill="#fff" stroke="#111" stroke-width="1.25" transform="rotate(14 477.1 479.2)"/>
<path d="M478.1 458.3 C478.2 459.6 479.2 463.5 479 466 C478.8 468.5 478.2 470.2 477 473.5 C475.8 476.8 473.8 482.4 471.6 485.6 C469.4 488.8 465.2 491.4 463.9 492.6" fill="none" stroke="#111" stroke-width="1.1" />
<path d="M460.2 483.9 C460.4 485.2 461 489.6 461.9 491.8 C462.8 494 464.8 496.1 465.4 497" fill="none" stroke="#111" stroke-width="0.9" />
<path d="M477.1 479.5 L501.3 489.1" stroke="#111" stroke-width="1.25"/>
<path d="M468.9 451.3 L478.5 455.6 L485.5 439.9 L479.4 436.4 L473.7 438" fill="#fff" stroke="#111" stroke-width="1.5" />
<path d="M470.6 447.3 L477.6 450.8 L482 442.1 L475.9 439.4" fill="none" stroke="#111" stroke-width="1.2" />
<ellipse cx="467.8" cy="441.4" rx="2.5" ry="3.3" fill="#fff" stroke="#111" stroke-width="2.0" transform="rotate(-20 467.8 441.4)"/>
<path d="M471.1 439 L470.2 443.8" stroke="#111" stroke-width="1.3"/>
<path d="M473.5 439.9 L472.6 444.7" stroke="#111" stroke-width="1.3"/>
<path d="M476 440.8 L475.1 445.6" stroke="#111" stroke-width="1.3"/>
<path d="M478.4 441.6 L477.5 446.4" stroke="#111" stroke-width="1.3"/>
<path d="M485.5 439.9 C486.3 440.2 488.9 441 490.3 442.1 C491.7 443.1 493.1 444.5 493.8 446 C494.6 447.5 495.1 448.9 494.7 450.8 C494.3 452.7 492.6 455.7 491.6 457.4 C490.7 459.1 490.5 460.8 489 460.9 C487.6 461 483.9 458.6 482.9 458.1" fill="none" stroke="#111" stroke-width="1.6" />
<path d="M486.4 443.8 C487 444.2 489.4 445 490.3 446 C491.3 447 492.3 448.3 492.1 449.9 C491.9 451.5 490 454.9 489 455.6 C488 456.4 486.5 454.5 486 454.3" fill="none" stroke="#111" stroke-width="1.8" />
<path d="M487.7 447.3 L486.4 451.3" stroke="#111" stroke-width="1.5"/>
<path d="M489.9 448.6 L488.1 453" stroke="#111" stroke-width="1.5"/>
<path d="M468.9 451.3 C468 451.4 465.8 451.4 463.6 452.1 C461.4 452.9 458.1 453.9 455.8 455.6 C453.4 457.4 451.2 459.6 449.6 462.6 C448 465.7 446.7 472.1 446.1 474" fill="none" stroke="#111" stroke-width="1.2" />
<path d="M413.8 440.1 C412.9 441.4 410 445.1 408.9 448 C407.8 450.9 406.9 455 407.1 457.6 C407.3 460.3 409.4 462.7 409.9 463.8" fill="none" stroke="#111" stroke-width="1.0" />
<path d="M489 460.9 C489.3 461.5 490.7 463.1 490.8 464.4 C490.8 465.7 489.7 468 489.5 468.8" fill="none" stroke="#111" stroke-width="1.3" />
<path d="M478.5 455.6 C477.9 455.8 476.2 456.2 475 456.7 C473.8 457.2 472.1 458.4 471.5 458.7" fill="none" stroke="#111" stroke-width="1.2" />
<path d="M369.6 610.7 L376.1 605.8 L388 605.4 L392.6 610.7 L392.6 620.7 L376.8 626.1 L370.5 621.9Z" fill="#fff" stroke="#111" stroke-width="1.5" />
<path d="M376.1 605.8 L381 611 L381 624.7" fill="none" stroke="#111" stroke-width="1.1" />
<path d="M381 611 L392.6 610.7" fill="none" stroke="#111" stroke-width="1.1" />
<path d="M372.6 613.7 L377.5 611.4 L378.2 620.7 L373.7 622.9Z" fill="none" stroke="#111" stroke-width="1.1" />
<path d="M389.8 606.7 L400.6 604.4 L403.1 607.5 L403.1 612.4 L393.3 616.6" fill="none" stroke="#111" stroke-width="1.2" />
<path d="M403.1 606.8 L437 593.5" stroke="#111" stroke-width="1.25"/>
<path d="M403.1 612.3 L438.4 599.1" stroke="#111" stroke-width="1.25"/>
<path d="M435.5 592.2 C435.8 591.6 438.4 590 439 590.2 C439.6 590.4 440.9 593.7 441.2 594.6 C441.5 595.5 442.1 598.8 441.8 599.4 C441.5 600 438.9 601.1 438.3 600.8 C437.7 600.5 436.2 597.6 435.9 596.8 C435.7 595.9 435.2 592.9 435.5 592.2Z" fill="#fff" stroke="#111" stroke-width="1.4" />
<path d="M440.8 589.8 L456.5 583.5 L457.6 595 L442.5 598.7Z" fill="#222" stroke="#111" stroke-width="1.2" />
<path d="M443.8 589.6 L445.7 597.5" stroke="#fff" stroke-width="0.7"/>
<path d="M447.1 588.3 L449.1 596.7" stroke="#fff" stroke-width="0.7"/>
<path d="M450.5 587 L452.4 595.9" stroke="#fff" stroke-width="0.7"/>
<path d="M453.8 585.6 L455.7 595.1" stroke="#fff" stroke-width="0.7"/>
<path d="M455.2 582.9 L461.8 579.4 L468.8 592.4 L457.6 595.2Z" fill="#fff" stroke="#111" stroke-width="1.3" />
<ellipse cx="455.8" cy="589.1" rx="2" ry="6.2" fill="#fff" stroke="#111" stroke-width="1.2" transform="rotate(-12 455.8 589.1)"/>
<path d="M460.9 578.8 L463.5 575.3 L467 574.4 L472.3 577.1 L474.5 585.4 L473.1 593.3 L470.5 595.9 L467.9 594.6 L466.1 589.8 L463.5 582.8Z" fill="#fff" stroke="#111" stroke-width="1.5" />
<path d="M463.5 575.3 L466.1 581 L468.8 588.9 L470.5 595.9" fill="none" stroke="#111" stroke-width="1.0" />
<path d="M472.3 577.1 C472.9 577.3 475.1 577.2 476.2 578.6 C477.3 579.9 478.7 583.6 478.8 585.4 C478.9 587.1 477.8 587.7 476.8 589.1 C475.9 590.4 473.8 592.6 473.1 593.3" fill="none" stroke="#111" stroke-width="1.4" />
<path d="M474.5 576.8 C475 577 476.8 576.4 477.7 577.9 C478.6 579.4 480 583.9 480 585.8 C480 587.8 478.1 589 477.7 589.6" fill="none" stroke="#111" stroke-width="1.3" />
<path d="M478 576.5 L486.3 573.1 L490.2 582.3 L481 586.3Z" fill="#fff" stroke="none" stroke-width="1.25" />
<path d="M478 576.5 L486.3 573.1" stroke="#111" stroke-width="1.3"/>
<path d="M481 586.3 L490.2 582.4" stroke="#111" stroke-width="1.3"/>
<ellipse cx="489.6" cy="577.9" rx="2.2" ry="4.9" fill="#fff" stroke="#111" stroke-width="1.3" transform="rotate(-15 489.6 577.9)"/>
<path d="M482.3 581 L487.6 579.1" stroke="#111" stroke-width="1.8"/>
<path d="M482.9 582.9 L488.2 581" stroke="#111" stroke-width="1.2"/>
<path d="M496.5 575.1 L508.4 571.1 L508.4 531.4 L520 527" fill="none" stroke="#111" stroke-width="1.25" />
<path d="M532.7 477.2 C530.6 477 523.9 474.6 520.2 475.9 C516.5 477.2 513 481.1 510.6 485 C508.2 488.9 506.2 494.6 505.8 499.3 C505.4 504 505.7 509.8 508.1 513.2 C510.5 516.6 518.2 518.6 520.2 519.7" fill="none" stroke="#111" stroke-width="1.4" />
<path d="M527.2 479.2 C525.6 480.2 519.9 482.6 517.6 485.5 C515.4 488.4 514.3 492.8 513.9 496.8 C513.5 500.8 514.9 507.3 515.1 509.4" fill="none" stroke="#111" stroke-width="1.0" />
<path d="M520.2 475.9 L532.7 478.4" stroke="#111" stroke-width="1.25"/>
<path d="M506.3 506.9 L520.2 511.2" stroke="#111" stroke-width="1.25"/>
<path d="M524.7 477.4 L530.2 481.7" stroke="#111" stroke-width="1.0"/>
<path d="M521.7 515.7 C521.8 513.2 521.3 506 522.7 500.6 C524.1 495.1 526.5 488.8 530.2 483 C534 477.1 538.6 471.2 545.3 465.4 C552 459.5 561.3 453.4 570.5 447.7 C579.7 442.1 592.3 435.6 600.7 431.4 C609.1 427.2 614.9 424.4 620.8 422.6 C626.7 420.8 631.3 420.2 635.9 420.6 C640.5 420.9 644.5 422.7 648.5 424.6 C652.5 426.5 657.9 430.9 659.8 432.1" fill="none" stroke="#111" stroke-width="1.4" />
<path d="M525.4 513.7 C525.7 511.3 525.8 504.2 527.2 499.3 C528.6 494.5 530.6 489.9 534 484.7 C537.4 479.6 541.6 474.3 547.8 468.6 C554.1 463 562.7 456.7 571.8 451 C580.8 445.4 593.6 438.9 601.9 434.7 C610.3 430.5 616.4 427.7 622.1 425.9 C627.7 424 631.9 423.6 635.9 423.8 C639.9 424 642.6 425.4 646 427.1 C649.3 428.8 654.4 432.8 656.1 433.9" fill="none" stroke="#111" stroke-width="1.0" />
<path d="M521.7 515.7 C522.2 519.9 523.4 533.4 524.7 540.9 C526 548.3 527.8 555.4 529.7 560.5 C531.7 565.5 535.4 569.3 536.5 571.1" fill="none" stroke="#111" stroke-width="1.4" />
<path d="M536.5 571.1 C549.3 576.1 587.5 591.2 613.3 601.2 C639.1 611.3 676.8 625.9 691.3 631.4 C705.7 637 698.6 634 700.1 634.5" fill="none" stroke="#111" stroke-width="1.3" />
<path d="M540.3 576.1 L693.8 635.5" fill="none" stroke="#111" stroke-width="0.9" />
<path d="M522.2 513.7 L681.7 576.6" fill="none" stroke="#111" stroke-width="2.4" />
<path d="M531.3 527.3 L677.8 584.7 A2.5 2.5 0 0 0 679.6 580 L533.2 522.7 A2.5 2.5 0 0 0 531.3 527.3 Z" fill="none" stroke="#111" stroke-width="1.1" />
<path d="M532.6 541.9 L678.5 599.8 A2.5 2.5 0 0 0 680.4 595.1 L534.4 537.3 A2.5 2.5 0 0 0 532.6 541.9 Z" fill="none" stroke="#111" stroke-width="1.1" />
<path d="M533.8 556.3 L679.8 613.7 A2.5 2.5 0 0 0 681.6 609 L535.7 551.6 A2.5 2.5 0 0 0 533.8 556.3 Z" fill="none" stroke="#111" stroke-width="1.1" />
<path d="M536.9 569.1 L681.6 626.5 A2.3 2.3 0 0 0 683.3 622.3 L538.6 564.9 A2.3 2.3 0 0 0 536.9 569.1 Z" fill="none" stroke="#111" stroke-width="1.1" />
<path d="M536.5 509.4 C538.2 506.5 542 502.1 545.3 501.1 C548.7 500.1 554.3 501.2 556.7 503.6 C559 506 559.2 511.6 559.4 515.7 C559.6 519.8 559.6 525.7 557.9 528.3 C556.2 530.9 552.2 531.5 549.1 531.3 C546 531.1 541.3 529.2 539 527 C536.7 524.8 535.7 521.1 535.3 518.2 C534.8 515.3 534.8 512.3 536.5 509.4Z" fill="#fff" stroke="#111" stroke-width="1.25" />
<ellipse cx="544.8" cy="516.9" rx="8.6" ry="10.2" fill="none" stroke="#111" stroke-width="1.5" transform="rotate(-15 544.8 516.9)"/>
<ellipse cx="545.3" cy="517.7" rx="5.6" ry="7.2" fill="none" stroke="#111" stroke-width="1.1" transform="rotate(-15 545.3 517.7)"/>
<path d="M722.8 456.1 L785.8 482.4" fill="none" stroke="#111" stroke-width="1.25" />
<path d="M661.1 445.6 C660.9 444.6 659.3 438.8 659.8 436.5 C660.2 434.1 663.7 426.7 665 425.2 C666.4 423.6 669.1 422.5 671.6 423.3 C674 424.2 683.3 431.4 686 432.5 C688.8 433.6 693.1 432.3 695.2 433 C697.4 433.8 702.3 436.4 704.4 439.1 C706.6 441.8 711.9 453.1 713.6 456.1 C715.3 459.2 718.2 464.3 718.9 465.3" fill="#fff" stroke="#111" stroke-width="1.4" />
<path d="M718.9 465.3 L724.1 461.4 L730.2 465.6 L721.5 470.9 L717.5 469.3 L704.9 458.8 L692.6 453.5" fill="none" stroke="#111" stroke-width="1.3" />
<path d="M661.1 445.6 L675.5 450.9 L678.2 448.8" fill="none" stroke="#111" stroke-width="1.2" />
<path d="M701.8 442 L712.3 458.8 L717.5 469.3" fill="none" stroke="#111" stroke-width="1.0" />
<path d="M718.9 465.3 L721.5 470.9" fill="none" stroke="#111" stroke-width="0.9" />
<path d="M638.8 473.2 L699.2 439.9 L703.9 443 L703.1 449.6 L645.3 482.4" fill="#fff" stroke="#111" stroke-width="1.3" />
<path d="M676.8 435.7 L674.6 439.5 L670.2 439.5 L667.9 435.7 L670.2 431.8 L674.6 431.8Z" fill="none" stroke="#111" stroke-width="1.3" />
<ellipse cx="672.4" cy="435.7" rx="2.2" ry="2.2" fill="none" stroke="#111" stroke-width="0.9"/>
<path d="M609.9 505.5 L621.7 495.5 L625.6 477.2 L630.9 471.4 L638.8 474.5 L653.2 506 L646.7 512.6 L640.1 517.1 L634.8 513.9 L644 506 L642.7 499.5 L637.5 494.2 L628.8 495.5 L627.7 500.8 L616.5 509.2Z" fill="#fff" stroke="#111" stroke-width="1.4" />
<path d="M621.7 495.5 L628.8 495.5" fill="none" stroke="#111" stroke-width="0.9" />
<path d="M646.7 512.6 L644 506" fill="none" stroke="#111" stroke-width="0.9" />
<ellipse cx="634.3" cy="481.1" rx="2" ry="2.7" fill="none" stroke="#111" stroke-width="1.1" transform="rotate(-20 634.3 481.1)"/>
<path d="M610.8 494.3 L619.6 491.8" fill="none" stroke="#111" stroke-width="1.25" />
<path d="M788.3 482.9 C785.3 484 777.8 485.4 770.7 489.2 C763.5 493 753.9 499.9 745.5 505.6 C737.1 511.2 727.9 517.9 720.3 523.2 C712.8 528.4 705.6 532.4 700.2 537 C694.7 541.6 690.6 546 687.6 550.9 C684.6 555.7 682.9 560.5 682.1 566 C681.2 571.4 682 576.9 682.6 583.6 C683.2 590.3 684.1 599.5 685.6 606.2 C687.1 612.9 689.2 619.2 691.4 623.8 C693.6 628.4 696.2 632 698.9 633.9 C701.7 635.8 704.2 636 707.7 635.4 C711.3 634.8 714 633.1 720.3 630.4 C726.6 627.6 737.9 622.4 745.5 618.8 C753 615.2 759.8 612.9 765.6 608.7 C771.5 604.5 776.5 599.5 780.7 593.6 C784.9 587.8 787.9 579.6 790.8 573.5 C793.7 567.4 796.6 560.6 798.3 557.1 C800.1 553.7 800.9 553.6 801.4 552.9" fill="none" stroke="#111" stroke-width="1.5" />
<path d="M788.3 486.2 C785.5 487.2 778.8 488.7 771.9 492.5 C765 496.2 755.1 503 746.8 508.6 C738.4 514.2 729 520.9 721.6 526.2 C714.2 531.5 707.4 535.8 702.2 540.3 C697.1 544.7 693.4 548.4 690.6 552.9 C687.9 557.4 686.4 562.1 685.6 567.2 C684.8 572.3 685.5 577.1 686.1 583.6 C686.7 590 687.7 599.3 689.1 605.7 C690.5 612.1 692.5 617.9 694.4 622.1 C696.3 626.3 698.5 629.2 700.7 630.9 C702.9 632.6 704.6 632.8 707.7 632.1 C710.9 631.5 713.7 629.8 719.8 627.1 C725.9 624.4 737.1 619.3 744.5 615.8 C751.9 612.2 758.7 609.8 764.4 605.7 C770.1 601.6 774.7 596.7 778.7 591.1 C782.7 585.5 785.4 578.1 788.3 572.2 C791.1 566.4 794.6 558.6 795.8 555.9" fill="none" stroke="#111" stroke-width="1.0" />
<path d="M765.6 508.1 C762.3 509.5 753 513.1 745.5 516.9 C737.9 520.7 727.5 526.3 720.3 530.7 C713.2 535.1 707.1 539.5 702.7 543.3 C698.3 547.1 696.2 549.6 693.9 553.4 C691.6 557.1 689.8 560.9 689.1 566 C688.4 571 689 577.3 689.6 583.6 C690.2 589.9 691.5 598.2 692.6 603.7 C693.8 609.2 694.7 613.5 696.4 616.3 C698.1 619 700 619.9 702.7 620.3 C705.4 620.7 707.7 620.5 712.8 618.8 C717.8 617.1 725.8 613.3 732.9 610 C740 606.6 749.3 602.6 755.6 598.7 C761.8 594.7 766.9 590.7 770.7 586.1 C774.4 581.5 775.9 576 778.2 571 C780.5 566 783.7 559.2 784.5 555.9 C785.3 552.5 784.5 552.1 783.2 550.9 C782 549.6 778 548.8 776.9 548.3" fill="none" stroke="#111" stroke-width="1.4" />
<path d="M776.9 548.3 C777.7 549.2 780.9 551.5 781.2 553.4 C781.5 555.3 780.3 558.7 778.7 559.7 C777.2 560.6 773.9 560.4 771.9 558.9 C769.9 557.4 768.1 554.3 766.9 550.9 C765.6 547.4 764.8 542.9 764.4 538.3 C763.9 533.7 763.9 527.7 764.1 523.2 C764.3 518.6 765.4 513.1 765.6 511.1" fill="none" stroke="#111" stroke-width="1.3" />
<path d="M788.3 482.9 C789.9 483.1 795.2 483.3 798.3 484.2 C801.5 485 805.7 487.3 807.1 487.9" fill="none" stroke="#111" stroke-width="1.3" />
<path d="M793.3 491 C796.2 491.3 804.2 490.1 810.9 493 C817.6 495.8 826.4 502.2 833.6 508.1 C840.7 513.9 848.2 521.9 853.7 528.2 C859.2 534.5 864.4 541.2 866.3 545.8 C868.2 550.4 867 552.7 865.3 555.9 C863.6 559.1 860.2 562.6 856.2 564.9 C852.2 567.3 847 569.1 841.1 570 C835.2 570.8 826.9 570.6 821 570 C815.1 569.4 809.2 567.7 805.9 566.5 C802.5 565.2 801.7 563.1 800.9 562.4" fill="none" stroke="#111" stroke-width="1.5" />
<path d="M795.8 495.5 C798.8 495.8 807.1 494.7 813.4 497.5 C819.7 500.3 827.3 506.6 833.6 512.1 C839.9 517.6 846.7 525.1 851.2 530.7 C855.6 536.3 859.2 541.6 860.2 545.8 C861.3 550 860.1 552.7 857.7 555.9 C855.4 559.1 848.1 563.4 846.1 564.9" fill="none" stroke="#111" stroke-width="1.0" />
<path d="M800.9 562.4 L807.9 547.1" fill="none" stroke="#111" stroke-width="1.2" />
<path d="M808.4 503 L816 519.4" stroke="#111" stroke-width="0.9"/>
<path d="M818.5 508.6 L823.5 521.2" stroke="#111" stroke-width="0.9"/>
<ellipse cx="788.3" cy="519.4" rx="12.6" ry="17.8" fill="#fff" stroke="#111" stroke-width="1.8" transform="rotate(-20 788.3 519.4)"/>
<ellipse cx="789.3" cy="519.6" rx="10" ry="15" fill="none" stroke="#111" stroke-width="1.0" transform="rotate(-20 789.3 519.6)"/>
<ellipse cx="790.8" cy="519.4" rx="7.6" ry="12.4" fill="none" stroke="#111" stroke-width="1.4" transform="rotate(-20 790.8 519.4)"/>
<path d="M790.8 506.8 L821 524.4 L809.7 545.8 L789.5 531.2" fill="#fff" stroke="#111" stroke-width="1.3" />
<path d="M821 524.4 C822 524.2 823.5 521.3 827.3 523.2 C831.1 525.1 839.8 532 843.6 535.8 C847.4 539.5 849.3 542.3 850.2 545.8 C851 549.4 850.2 554 848.7 557.1 C847.2 560.3 844.1 563.6 841.1 564.9 C838.2 566.2 834.4 566 831.1 564.9 C827.7 563.9 824.5 561.6 821 558.4 C817.4 555.2 811.5 547.9 809.7 545.8" fill="#fff" stroke="#111" stroke-width="1.4" />
<path d="M821 524.4 L809.7 545.8" stroke="#111" stroke-width="1.3"/>
<path d="M843.6 535.8 C843.2 537 840.7 540.8 841.1 543.3 C841.5 545.8 844.8 548.8 846.1 550.9 C847.5 553 848.7 555 849.2 555.9" fill="none" stroke="#111" stroke-width="1.0" />
<path d="M788.3 543.8 L793.3 538.3 L801.4 541.3 L807.4 546.3 L801.4 553.4 L793.8 548.8 L788.3 543.8" fill="none" stroke="#111" stroke-width="1.2" />
<path d="M367.1 736.7 L381.9 728.5 L422.1 736.7 L408.2 747" fill="none" stroke="#111" stroke-width="0.9" />
<path d="M326.1 701.4 C326.4 700.6 326.5 697.6 327.7 696.8 C329 696.1 331.6 695.2 333.5 696.8 C335.4 698.4 337 702 339.2 706.3 C341.4 710.7 343.9 718.4 346.6 722.7 C349.4 727.1 353 730.1 355.6 732.6 C358.2 735.1 361.1 736.7 362.2 737.5" fill="none" stroke="#111" stroke-width="1.3" />
<path d="M326.1 701.4 C326.5 703.1 327.6 707.5 328.6 711.3 C329.5 715 331.3 721.9 331.8 724.1" fill="none" stroke="#111" stroke-width="1.3" />
<path d="M336.8 701.4 C338 704.4 342.1 714.8 344.2 719.5 C346.3 724.1 348.5 727.7 349.4 729.3" fill="none" stroke="#111" stroke-width="0.9" />
<path d="M327.1 702.2 L333 700.6 L334.6 708 L329.1 709.6Z" fill="none" stroke="#111" stroke-width="1.4" />
<path d="M328.7 703.9 L332 703.1 L333 707.2 L329.7 708Z" fill="none" stroke="#111" stroke-width="0.9" />
<path d="M331.8 724.1 L349.1 728.5" fill="none" stroke="#111" stroke-width="1.1" />
<path d="M331.8 724.1 L326.9 726.8 L322.8 730.5 L322.8 737.5 L325.3 740.1 L379.4 750" fill="none" stroke="#111" stroke-width="1.2" />
<path d="M326.9 732.6 L362.2 740.8" fill="none" stroke="#111" stroke-width="0.9" />
<path d="M362.2 737.5 L395 746.5 L408.2 747.4" fill="none" stroke="#111" stroke-width="1.2" />
<path d="M362.2 740.8 L391.8 748.7" fill="none" stroke="#111" stroke-width="0.9" />
<path d="M386.8 757.2 L403.2 747.4" fill="none" stroke="#111" stroke-width="0.9" />
<path d="M323.6 740.5 L307.2 750.6 L306.4 757.2" fill="none" stroke="#111" stroke-width="1.3" />
<path d="M306.4 757.2 C306.7 758.9 307 764.2 308.1 767.1 C309.1 769.9 311.5 773.1 313 774.4 C314.5 775.8 315.8 775.6 317.1 774.9 C318.3 774.3 319.8 772.3 320.4 770.3 C320.9 768.4 320.5 764.3 320.5 763.1" fill="none" stroke="#111" stroke-width="1.3" />
<path d="M306.4 757.2 L309.4 758.9 L320.5 762.5 L322.8 762.1 L352.4 768.7" fill="none" stroke="#111" stroke-width="1.2" />
<path d="M352.4 768.7 C352.6 769.9 353.2 773.9 354 776.1 C354.8 778.3 355.9 780.9 357.3 781.8 C358.7 782.7 361.1 782.3 362.2 781.5 C363.4 780.7 364 779.3 364.2 776.9 C364.3 774.6 363.4 769 363.2 767.4" fill="none" stroke="#111" stroke-width="1.3" />
<path d="M363.2 767.4 L367.1 763.9 L386.8 766.4 L395 762.1 L416.4 750.6 L419.6 749" fill="none" stroke="#111" stroke-width="1.4" />
<path d="M367.1 765.7 L386.8 767.5 L416.4 752.6" fill="none" stroke="#111" stroke-width="0.9" />
<path d="M419.6 749 C420.3 750.4 422.9 754.7 423.8 757.2 C424.6 759.7 425 762.1 424.6 763.8 C424.2 765.4 422.7 766.6 421.3 767.1 C419.9 767.5 417.9 767.7 416.4 766.4 C414.9 765.1 413.1 761.1 412.3 759.2 C411.4 757.2 411.6 755.5 411.4 754.7" fill="none" stroke="#111" stroke-width="1.3" />
<path d="M413.1 758.9 L417.7 756.4 L420.5 763.4 L416 765.4Z" fill="none" stroke="#111" stroke-width="1.2" />
<path d="M363.2 767.4 L372.1 762.1" fill="none" stroke="#111" stroke-width="0.9" />
<path d="M321.2 752.6 C321.9 751.9 325.8 748.3 328.6 748.2 C331.4 748 344.9 750.4 349.1 751 C353.3 751.5 368.1 753.4 370.4 753.9 C372.7 754.5 372.7 755.8 372.1 756.6 C371.4 757.3 366.5 761.2 363.9 761.5 C361.2 761.7 349.4 759.6 345.8 759.2 C342.2 758.8 330.2 757.6 327.7 757.2 C325.3 756.8 322.2 755.7 321.5 755.2 C320.9 754.8 320.5 753.3 321.2 752.6Z" fill="none" stroke="#111" stroke-width="1.2" />
<path d="M329.4 757.2 L344.2 749.8" fill="none" stroke="#111" stroke-width="0.9" />
<path d="M334.3 753.9 L367.1 758.2" fill="none" stroke="#111" stroke-width="0.9" />
<ellipse cx="313.8" cy="767.5" rx="1.6" ry="2.4" fill="none" stroke="#111" stroke-width="1.1" transform="rotate(-15 313.8 767.5)"/>
<ellipse cx="358.1" cy="774.9" rx="1.7" ry="2.4" fill="none" stroke="#111" stroke-width="1.1" transform="rotate(-15 358.1 774.9)"/>
<path d="M294.9 777.7 L312.2 768.7" stroke="#111" stroke-width="1.25"/>
<path d="M343.3 783.1 L356.5 775.8" stroke="#111" stroke-width="1.25"/>
<path d="M367.1 735.9 L383.5 726.8" stroke="#111" stroke-width="1.25"/>
<path d="M385.8 727.8 L396 722 M383.9 724.3 L394 718.5" fill="none" stroke="#111" stroke-width="1.25" />
<ellipse cx="384.9" cy="726" rx="0.9" ry="2" fill="#fff" stroke="#111" stroke-width="1.0" transform="rotate(-29.4 384.9 726)"/>
<path d="M387.5 726.8 Q385 726 385.6 723.3" fill="none" stroke="#111" stroke-width="0.9" />
<path d="M389.2 725.9 Q386.7 725 387.3 722.4" fill="none" stroke="#111" stroke-width="0.9" />
<path d="M390.9 724.9 Q388.4 724 389 721.4" fill="none" stroke="#111" stroke-width="0.9" />
<path d="M392.6 723.9 Q390.1 723.1 390.7 720.5" fill="none" stroke="#111" stroke-width="0.9" />
<path d="M394.3 723 Q391.8 722.1 392.4 719.5" fill="none" stroke="#111" stroke-width="0.9" />
<ellipse cx="395" cy="720.3" rx="2.6" ry="4" fill="#fff" stroke="#111" stroke-width="1.2" transform="rotate(-29.4 395 720.3)"/>
<path d="M397.7 722 L399.2 721.1 M395.8 716.6 L396.4 716.3" fill="none" stroke="#111" stroke-width="1.0" />
<path d="M399.8 719.4 L399.4 721.5 L397.4 720.8 L395.8 718 L396.2 715.9 L398.2 716.6Z" fill="#fff" stroke="#111" stroke-width="1.2" />
<ellipse cx="395.7" cy="719.9" rx="1.4" ry="2.5" fill="none" stroke="#111" stroke-width="0.9" transform="rotate(-29.4 395.7 719.9)"/>
<path d="M149.2 826 L227.3 780.7 L231.9 779.6 L337.6 789.9 L341.3 795.7 L339.9 801.4 L261.8 835.9 L254.9 841.6 L241.1 845.1 L151.5 829.2Z" fill="#fff" stroke="#111" stroke-width="1.5" />
<path d="M154.2 826.5 L228.7 784.2 L334.1 793.4 L259.5 833.6 L238.8 841.6Z" fill="none" stroke="#111" stroke-width="1.0" />
<path d="M157.2 826 L229.6 786.5 L329.6 795.2 L258.3 831.3 L239.3 839.3Z" fill="none" stroke="#111" stroke-width="0.8" />
<path d="M150.3 829.2 L152.6 835.9 L169.9 839.8" fill="none" stroke="#111" stroke-width="1.2" />
<path d="M169.9 833.6 L174.5 848.5 L215.8 866.9 L236.5 878.4 L241.1 885.3 L249.1 887.6 L284.7 868.1 L310 857.7 L311.2 863.7 L315.8 866 L323.8 862.3 L328.4 851.3 L337.6 843.9 L339.9 801.4" fill="none" stroke="#111" stroke-width="1.4" />
<path d="M259.5 839.8 L248 864.6 L241.1 883" fill="none" stroke="#111" stroke-width="1.1" />
<path d="M215.8 843.9 L219.3 857.7 L236.5 878.4" fill="none" stroke="#111" stroke-width="1.1" />
<path d="M284.7 843.9 L335.3 818.7" fill="none" stroke="#111" stroke-width="1.1" />
<path d="M284.7 843.9 L282.5 866.9" fill="none" stroke="#111" stroke-width="1.1" />
<path d="M310 857.7 L328.4 851.3" fill="none" stroke="#111" stroke-width="1.0" />
<path d="M287 824.4 C287.2 826.1 287.2 832.2 288.2 834.7 C289.2 837.2 291.4 840.1 292.8 839.3 C294.1 838.6 295.7 831.7 296.2 830.1" fill="none" stroke="#111" stroke-width="0.9" />
<path d="M248 850.8 C248.4 852.4 248.9 858.3 250.3 860 C251.6 861.7 254.5 862.7 256 861.2 C257.6 859.6 258.9 852.5 259.5 850.8" fill="none" stroke="#111" stroke-width="0.9" />
<path d="M236.5 843.9 L237.6 848.5 L254.9 845.1 L259.5 839.8" fill="none" stroke="#111" stroke-width="1.2" />
<path d="M323.8 798 L325 802.6 L335.3 800.3 L337.6 794.5" fill="none" stroke="#111" stroke-width="1.2" />
<path d="M174.5 835.2 L176.8 847.4" fill="none" stroke="#111" stroke-width="1.0" />
<path d="M182.5 836.6 L187.1 850.8" fill="none" stroke="#111" stroke-width="1.0" />
<path d="M197.4 839.3 L200.2 850.8" fill="none" stroke="#111" stroke-width="1.0" />
<path d="M208.9 841.6 L213.1 854.3" fill="none" stroke="#111" stroke-width="1.0" />
<path d="M184.8 841.6 C185.6 841.4 188.2 839.7 189.4 840.5 C190.5 841.2 191.3 845.3 191.7 846.2" fill="none" stroke="#111" stroke-width="0.9" />
<path d="M236.5 793.8 C236.1 792.5 241.9 791.9 245.7 791.1 C249.5 790.2 253 789 259.5 788.8 C266 788.6 279.3 788.6 284.7 789.7 C290.2 790.9 291.3 793.5 292.1 795.7 C292.9 797.9 292.1 801.4 289.3 803 C286.6 804.6 280.5 805.3 275.6 805.3 C270.6 805.3 264.1 804.1 259.5 803 C254.9 802 251.8 800.4 248 798.9 C244.2 797.4 236.9 795.1 236.5 793.8Z" fill="none" stroke="#111" stroke-width="1.3" />
<path d="M235.4 794.5 L238.8 816.4 L250.3 821 L259.5 818.7 L257.2 803" fill="none" stroke="#111" stroke-width="1.3" />
<path d="M238.8 816.4 L243.4 821 L259.5 827.8 L268.7 828.3" fill="none" stroke="#111" stroke-width="1.0" />
<path d="M259.5 804.9 L268.7 827.8" fill="none" stroke="#111" stroke-width="1.1" />
<path d="M265.2 804.4 L275.6 826" fill="none" stroke="#111" stroke-width="1.1" />
<path d="M273.3 805.3 L280.6 824.4" fill="none" stroke="#111" stroke-width="1.1" />
<path d="M248 800.3 L252.6 819.8" fill="none" stroke="#111" stroke-width="1.1" />
<path d="M186 824.4 C187.1 823.5 189.8 820.2 192.8 819.1 C195.9 818 201.3 819 204.3 817.7 C207.4 816.5 209.3 814.2 211.2 811.8 C213.1 809.3 213.5 804.9 215.8 803 C218.1 801.1 221.9 799.6 225 800.3 C228.1 801 233.7 805 234.2 807.2 C234.7 809.3 230.8 811.8 227.8 813.1 C224.7 814.5 219 813.8 215.8 815.4 C212.7 817.1 210.5 820.3 208.9 823.2 C207.4 826.2 207 831.3 206.6 832.9" fill="none" stroke="#111" stroke-width="1.3" />
<path d="M211.2 803 C212.4 802.4 215.1 799.2 218.1 799.1 C221.2 799 227.2 801 229.6 802.6 C232 804.1 231.9 807.5 232.4 808.5" fill="none" stroke="#111" stroke-width="1.1" />
<path d="M206.6 830.1 C207.1 828.6 207.1 823.6 209.4 821 C211.7 818.3 215.9 816 220.4 814.5 C224.9 813.1 233.8 812.6 236.5 812.2" fill="none" stroke="#111" stroke-width="1.1" />
<path d="M215.8 821 L215.8 835.2" fill="none" stroke="#111" stroke-width="1.1" />
<path d="M220.9 823.7 L221.8 836.1" fill="none" stroke="#111" stroke-width="1.1" />
<path d="M215.8 821 L220.9 823.7" fill="none" stroke="#111" stroke-width="1.0" />
<path d="M186 824.4 C186.5 825.4 187.1 828.6 189.4 830.1 C191.7 831.7 196.5 832.7 199.7 833.6 C203 834.4 207.4 834.9 208.9 835.2" fill="none" stroke="#111" stroke-width="1.1" />
<path d="M268.7 798 C270.2 797.6 274.8 795.7 277.9 795.7 C280.9 795.7 285.5 797.6 287 798" fill="none" stroke="#111" stroke-width="1.0" />
<path d="M289.3 802.6 C291.3 803.7 298.2 808.9 300.8 809.5 C303.5 810 303.9 808.1 305.4 806 C307 803.9 309.3 798.4 310 796.8" fill="none" stroke="#111" stroke-width="1.0" />
<path d="M298.5 792.2 L300.8 807.2" fill="none" stroke="#111" stroke-width="1.0" />
<path d="M236.5 832.4 C237.3 833.2 238 836.6 241.1 837 C244.2 837.5 252.6 835.5 254.9 835.2" fill="none" stroke="#111" stroke-width="1.0" />
<ellipse cx="228.5" cy="786" rx="2.6" ry="1.8" fill="none" stroke="#111" stroke-width="1.0"/>
<ellipse cx="191.7" cy="806" rx="2.6" ry="1.8" fill="none" stroke="#111" stroke-width="1.0"/>
<ellipse cx="261.8" cy="786" rx="2.6" ry="1.8" fill="none" stroke="#111" stroke-width="1.0"/>
<ellipse cx="305.4" cy="789.2" rx="2.6" ry="1.8" fill="none" stroke="#111" stroke-width="1.0"/>
<ellipse cx="334.8" cy="792.9" rx="2.6" ry="1.8" fill="none" stroke="#111" stroke-width="1.0"/>
<ellipse cx="290.5" cy="815.9" rx="2.6" ry="1.8" fill="none" stroke="#111" stroke-width="1.0"/>
<ellipse cx="253.7" cy="835.2" rx="2.6" ry="1.8" fill="none" stroke="#111" stroke-width="1.0"/>
<ellipse cx="219.3" cy="811.3" rx="2.6" ry="1.8" fill="none" stroke="#111" stroke-width="1.0"/>
<ellipse cx="238.8" cy="833.6" rx="2.6" ry="1.8" fill="none" stroke="#111" stroke-width="1.0"/>
<ellipse cx="277.9" cy="798" rx="2.6" ry="1.8" fill="none" stroke="#111" stroke-width="1.0"/>
<path d="M187.1 807.2 C187.2 808.3 186.4 812.5 187.8 814.1 C189.1 815.7 192.8 816.9 195.1 816.8 C197.4 816.7 200.7 815.2 201.6 813.6 C202.4 812 200.4 808.2 200.2 807.2" fill="none" stroke="#111" stroke-width="1.1" />
<path d="M224.6 786.9 C224.7 788 224.4 792.1 225.5 793.4 C226.5 794.7 229.3 795.1 230.8 794.8 C232.2 794.4 233.6 791.7 234.2 791.1" fill="none" stroke="#111" stroke-width="1.1" />
<path d="M158.8 848.9 L174.5 839.7 L174.5 850.5 L158.8 859.7 Z" fill="#fff" stroke="#111" stroke-width="1.2" />
<ellipse cx="158.8" cy="854.3" rx="4.6" ry="5.4" fill="#fff" stroke="#111" stroke-width="1.3" transform="rotate(-20 158.8 854.3)"/>
<ellipse cx="158.8" cy="854.3" rx="1.4" ry="1.6" fill="none" stroke="#111" stroke-width="1.2"/>
<path d="M196.5 853.7 L212.4 845 L212.4 855.8 L196.5 864.5 Z" fill="#fff" stroke="#111" stroke-width="1.2" />
<ellipse cx="196.5" cy="859.1" rx="4.6" ry="5.4" fill="#fff" stroke="#111" stroke-width="1.3" transform="rotate(-20 196.5 859.1)"/>
<ellipse cx="196.5" cy="859.1" rx="1.4" ry="1.6" fill="none" stroke="#111" stroke-width="1.2"/>
<path d="M144.6 861.2 L155.2 855.4" stroke="#111" stroke-width="1.25"/>
<path d="M172.2 872 L192.8 861.2" stroke="#111" stroke-width="1.25"/>
<path d="M235.9 794.1 L242.5 788.9 L281 786.1 L289.1 791.3 L288 797.3 L274 803.6 L258.3 804.6 L235.9 794.1" fill="none" stroke="#111" stroke-width="1.2" />
<path d="M236.4 794.8 L239.9 815.6 L246 821.1 L254.8 819.3 L257.9 804.6" fill="none" stroke="#111" stroke-width="1.3" />
<path d="M258.6 804.6 L262.1 828.8" fill="none" stroke="#111" stroke-width="1.2" />
<path d="M267 804.6 L272.3 825.3" fill="none" stroke="#111" stroke-width="1.2" />
<path d="M274 803.7 L277.5 822.1" fill="none" stroke="#111" stroke-width="1.2" />
<path d="M262.6 806 L266.1 827" fill="none" stroke="#111" stroke-width="1.2" />
<path d="M270.5 804.3 L275.4 823.9" fill="none" stroke="#111" stroke-width="1.2" />
<path d="M288 797.3 C289.2 796.7 292.7 794.6 295 793.8 C297.4 792.9 299.1 792 302 792 C305 792 310.1 792.6 312.5 793.8 C314.9 794.9 315.7 798.1 316.4 799" fill="none" stroke="#111" stroke-width="1.1" />
<path d="M293.3 795.5 L295 811.3" fill="none" stroke="#111" stroke-width="1.1" />
<path d="M302 795.5 L303.8 808.1" fill="none" stroke="#111" stroke-width="1.1" />
<path d="M211.9 802.5 C213 801.5 215.2 800 218 799.9 C220.8 799.7 225.9 800.2 228.5 801.6 C231.1 803.1 233.2 806.7 233.8 808.6 C234.3 810.5 233.5 812.7 232 813 C230.6 813.3 227.3 811.1 225 810.6 C222.7 810 220.1 809.4 218 809.5 C216 809.6 213.9 811.8 212.8 811.3 C211.6 810.7 211.2 807.5 211 806 C210.9 804.5 210.7 803.5 211.9 802.5Z" fill="none" stroke="#111" stroke-width="1.2" />
<path d="M206.6 825.3 C207.1 824.1 207.4 820.1 209.3 818.3 C211.2 816.4 214.5 814.9 218 814.1 C221.5 813.2 226.8 812.4 230.3 813 C233.8 813.6 237.6 816.8 239 817.6" fill="none" stroke="#111" stroke-width="1.2" />
<path d="M218 835.8 L216.3 823.5 L219.8 821.8 L222.4 834" fill="none" stroke="#111" stroke-width="1.1" />
<path d="M242.5 790.3 C243.7 790.8 246.6 793 249.5 793.8 C252.4 794.5 257.4 793.8 260 794.6 C262.6 795.5 264.4 798.3 265.3 799" fill="none" stroke="#111" stroke-width="1.1" />
<path d="M274 795.5 C274.6 796.2 275.8 799.3 277.5 799.9 C279.3 800.5 282.9 799.9 284.5 799 C286.2 798.1 286.9 795.4 287.3 794.6" fill="none" stroke="#111" stroke-width="1.1" />
<path d="M285.4 823.5 C285.8 825.6 286.7 833.3 288 835.8 C289.3 838.2 292 841 293.3 838.4 C294.6 835.8 295.5 823.1 295.9 820" fill="none" stroke="#111" stroke-width="1.1" />
<path d="M190 804.3 L197 806.9 L200.5 813 L193.5 815.6" fill="none" stroke="#111" stroke-width="1.1" />
<path d="M233.8 830.5 C234.3 831.4 235.8 835.2 237.3 835.8 C238.7 836.4 241.6 834.3 242.5 834" fill="none" stroke="#111" stroke-width="1.0" />
<path d="M302 794.6 C302.6 795.4 304.1 798.6 305.5 799 C307 799.4 309.9 797.5 310.8 797.3" fill="none" stroke="#111" stroke-width="1.0" />
<path d="M86.8 895.8 L123.7 900.7 L136.8 894.2" fill="none" stroke="#111" stroke-width="0.9" />
<path d="M77.7 899.1 L108.9 883" stroke="#111" stroke-width="1.25"/>
<path d="M78.6 861.3 L82.7 859.4 L95.8 858.1 L161.4 870.4 L170.5 873.6 L169.6 877.1 L161.8 880.4 L160.6 881.4 L158.2 887.6 L151.9 889.2 L154.1 892.8 L153.2 900.7 L150 905 L145 903.3 L141.8 895.8 L138.5 886.9 L117.1 884.3 L108.9 882 L90.9 880.4 L80.2 864.6Z" fill="#fff" stroke="#111" stroke-width="1.4" />
<path d="M80.2 864.6 L158.2 875.4 L161.4 870.5" fill="none" stroke="#111" stroke-width="1.1" />
<path d="M97.4 860.7 L157.3 871.8" fill="none" stroke="#111" stroke-width="0.9" />
<path d="M88.4 873.2 L154.9 881.4" fill="none" stroke="#111" stroke-width="1.1" />
<path d="M95.8 863 L102.4 872.2" fill="none" stroke="#111" stroke-width="0.9" />
<path d="M119.6 869.5 L119.6 875.4" fill="none" stroke="#111" stroke-width="0.9" />
<path d="M130.3 869.9 L145 866.6" fill="none" stroke="#111" stroke-width="0.9" />
<path d="M145 874.5 L147.5 881" fill="none" stroke="#111" stroke-width="0.9" />
<path d="M158.2 875.4 L160.6 881.4" fill="none" stroke="#111" stroke-width="1.1" />
<path d="M161.8 873.8 L168 874.5 L169.6 877.1 L163.4 879.4 L159.8 877.7" fill="none" stroke="#111" stroke-width="1.3" />
<path d="M108.9 882 L112.2 884 L117.1 884.3" fill="none" stroke="#111" stroke-width="2.0" />
<ellipse cx="115.5" cy="877.7" rx="2" ry="2.3" fill="none" stroke="#111" stroke-width="1.4"/>
<ellipse cx="153.2" cy="883.7" rx="2" ry="2.3" fill="none" stroke="#111" stroke-width="1.4"/>
<ellipse cx="156.8" cy="887.3" rx="1.6" ry="1.8" fill="none" stroke="#111" stroke-width="1.1"/>
<ellipse cx="146.7" cy="897.4" rx="1.8" ry="2.5" fill="none" stroke="#111" stroke-width="1.4" transform="rotate(-15 146.7 897.4)"/>
<path d="M58.1 855.6 L60.5 851.8 L66.3 852.8 L70.4 855.6 L90.9 880.4 L69.5 878.7 L58.9 861.3Z" fill="#fff" stroke="#111" stroke-width="1.4" />
<path d="M69.9 855.1 L90.5 879.9" stroke="#111" stroke-width="2.4"/>
<ellipse cx="64.6" cy="859.7" rx="1.9" ry="2.6" fill="none" stroke="#111" stroke-width="1.4" transform="rotate(-15 64.6 859.7)"/>
<path d="M113 916.3 L140.4 901.5" stroke="#111" stroke-width="1.25"/>
<path d="M40 873.6 L58.9 863" stroke="#111" stroke-width="1.25"/>
<path d="M144.2 861.3 L154.9 855.6" stroke="#111" stroke-width="1.25"/>
<path d="M171.3 872 L190 862.2" stroke="#111" stroke-width="1.25"/>
<path d="M73.4 900.8 L63.9 904.7 M74.9 904.3 L65.3 908.2" fill="none" stroke="#111" stroke-width="1.25" />
<ellipse cx="74.1" cy="902.5" rx="0.9" ry="1.9" fill="#fff" stroke="#111" stroke-width="1.0" transform="rotate(157.5 74.1 902.5)"/>
<path d="M71.8 901.4 Q74.1 902.5 73.3 904.9" fill="none" stroke="#111" stroke-width="0.9" />
<path d="M70.2 902.1 Q72.5 903.2 71.7 905.6" fill="none" stroke="#111" stroke-width="0.9" />
<path d="M68.6 902.7 Q71 903.8 70.1 906.3" fill="none" stroke="#111" stroke-width="0.9" />
<path d="M67.1 903.4 Q69.4 904.5 68.5 906.9" fill="none" stroke="#111" stroke-width="0.9" />
<path d="M65.5 904.1 Q67.8 905.2 66.9 907.6" fill="none" stroke="#111" stroke-width="0.9" />
<ellipse cx="64.6" cy="906.5" rx="2.4" ry="3.6" fill="#fff" stroke="#111" stroke-width="1.2" transform="rotate(157.5 64.6 906.5)"/>
<path d="M62.3 904.7 L66.6 902.9 M63.3 909.8 L68.5 907.6" fill="none" stroke="#111" stroke-width="1.0" />
<path d="M65.8 904.4 L66.5 902.6 L68.2 903.4 L69.3 906.1 L68.7 907.9 L66.9 907.1Z" fill="#fff" stroke="#111" stroke-width="1.2" />
<ellipse cx="63.9" cy="906.8" rx="1.3" ry="2.2" fill="none" stroke="#111" stroke-width="0.9" transform="rotate(157.5 63.9 906.8)"/>
<path d="M582.6 723.4 L582.6 753.7" stroke="#111" stroke-width="1.25"/>
<path d="M456.6 753.7 L709.8 753.7 L709.8 821.5 L721.5 829.4" fill="none" stroke="#111" stroke-width="1.25" />
<path d="M456.6 753.7 L456.6 951.6 L481.6 967.3" fill="none" stroke="#111" stroke-width="1.25" />
<path d="M474.7 982.1 L547.6 1023.5 L601.7 993.9" fill="none" stroke="#111" stroke-width="1.25" />
<path d="M497.3 977.2 L555.4 1009.7" fill="none" stroke="#111" stroke-width="1.25" />
<path d="M571.2 1019.5 L694.5 1089.7 L866.3 1089.7 L866.3 913.1 L828.8 892" fill="none" stroke="#111" stroke-width="1.25" />
<path d="M745.1 825.4 L834.7 876.6 L809.1 892.4" fill="none" stroke="#111" stroke-width="1.25" />
<path d="M735.3 837.3 L812.1 881.6" fill="none" stroke="#111" stroke-width="1.25" />
<path d="M719.5 838.2 L755 819.5" fill="none" stroke="#111" stroke-width="1.25" />
<path d="M463 985.5 L521 953.5" fill="none" stroke="#111" stroke-width="1.25" />
<path d="M467.3 920.4 C468.9 918.1 472.1 911.2 476.9 906.7 C481.7 902.1 488.3 897.6 496 893 C503.8 888.4 513.8 883.4 523.4 879.3 C533 875.2 542.1 872.3 553.5 868.4 C564.9 864.5 578.5 860.2 591.8 856.1 C605 852 620 847.4 632.8 843.8 C645.6 840.1 658.8 836.4 668.3 834.2 C677.9 832 686.6 831.1 690.2 830.6 C693.8 830.2 688.6 831.2 690 831.4 C691.4 831.5 696.2 830.9 698.9 831.4 C701.5 831.8 700.7 830.4 705.8 834.3 C710.8 838.2 721.5 848.6 729.4 855 C737.3 861.4 746.5 868.4 753 872.7 C759.6 877 763.9 878.6 768.8 880.6 C773.7 882.6 778.3 883.2 782.6 884.5 C786.8 885.8 790.1 885.2 794.4 888.5 C798.6 891.8 802.6 899 808.2 904.2 C813.7 909.5 822.3 915.1 827.9 920 C833.4 924.9 838.7 930.2 841.6 933.8 C844.6 937.4 845.6 938.7 845.6 941.6 C845.6 944.6 844.6 947.9 841.6 951.5 C838.7 955.1 834.7 957.7 827.9 963.3 C821 968.9 809.5 977.9 800.3 985 C791.1 992 777.3 1002.2 772.7 1005.6" fill="none" stroke="#111" stroke-width="1.7" />
<path d="M470.2 918.7 C471.7 916.9 474.8 912.3 479.4 908.4 C484 904.4 490.1 899.4 497.7 894.9 C505.3 890.3 515.6 885.3 525.1 881.2 C534.5 877.1 543.1 874.3 554.3 870.4 C565.6 866.6 579.4 862.2 592.6 858.1 C605.8 854 620.9 849.4 633.6 845.8 C646.4 842.2 659.8 838.4 669.2 836.2 C678.6 834 686.8 833.2 690.2 832.7 C693.7 832.1 688.7 832.8 690 832.8 C691.3 832.8 695.8 832.3 698.3 832.8 C700.7 833.3 699.8 831.8 704.8 835.7 C709.8 839.6 720.3 849.8 728.2 856.2 C736 862.6 745.2 869.6 751.8 873.9 C758.4 878.2 762.8 879.9 767.8 881.9 C772.8 883.9 777.4 884.7 781.6 886 C785.8 887.3 788.9 886.7 793.2 889.9 C797.4 893.2 801.4 900.2 806.9 905.4 C812.5 910.7 821.1 916.3 826.6 921.2 C832.2 926.1 837.3 931.3 840.2 934.7 C843 938.2 843.9 939.2 843.9 941.9 C843.9 944.6 843 947.5 840.2 950.9 C837.3 954.3 833.4 956.8 826.6 962.3 C819.8 967.8 808.5 976.7 799.3 983.7 C790.2 990.8 776.3 1001 771.7 1004.4" fill="none" stroke="#111" stroke-width="1.2" />
<path d="M772.7 1005.6 L768.8 1007.2" fill="none" stroke="#111" stroke-width="1.4" />
<path d="M548 879.3 C550.7 878.2 557.1 874.8 564.4 872.5 C571.7 870.2 581.7 867.9 591.8 865.6 C601.8 863.4 614.6 860.3 624.6 858.8 C634.6 857.3 642.8 856.8 651.9 856.9 C661.1 857 672.9 858.5 679.3 859.6 C685.6 860.8 681.7 861.3 690 863.9 C698.3 866.4 714.3 869.9 729.4 874.7 C744.5 879.4 772.1 889.5 780.6 892.4" fill="none" stroke="#111" stroke-width="1.1" />
<path d="M546.7 878.4 C547.3 879.3 548.1 881.6 550.5 883.6 C552.9 885.6 555.5 887.4 561 890.6 C566.5 893.8 575.6 898.7 583.8 902.9 C592 907.1 601.2 911.5 610 916 C618.8 920.5 627.5 925.5 636.3 930 C645 934.5 653.8 938.5 662.5 943.2 C671.2 947.9 679.5 952.5 688.8 958 C698.1 963.5 708.1 970.1 718.2 976.5 C728.4 982.9 741.5 991.4 749.7 996.6 C757.9 1001.8 764.5 1005.8 767.4 1007.6" fill="none" stroke="#111" stroke-width="1.6" />
<path d="M553.1 880.7 C556.8 882.1 567 885.5 575 888.9 C583 892.3 592.5 896.9 601.3 901.1 C610 905.3 618.8 909.5 627.5 914.3 C636.2 919.1 645 924.8 653.8 930 C662.5 935.2 669.3 938.7 680 945.8 C690.7 952.9 706.6 964.5 718.2 972.6 C729.8 980.7 741.2 988.6 749.7 994.2 C758.2 999.8 766.1 1004.4 769.4 1006.4" fill="none" stroke="#111" stroke-width="1.0" />
<path d="M479.6 913.2 C482.1 911.4 488.6 906 494.4 902.3 C500.1 898.7 507.5 894.6 514.1 891.5 C520.6 888.4 528.4 885.7 533.8 883.6 C539.2 881.6 544.4 880 546.6 879.3" fill="none" stroke="#111" stroke-width="1.0" />
<path d="M479.6 913.2 C479.8 914.2 479.3 917.3 480.6 919.1 C481.9 920.9 483.6 922.9 487.5 924 C491.4 925.2 498.8 926.3 504.2 926 C509.6 925.6 516.1 922.9 520 922 C523.9 921.1 525.6 920.2 527.9 920.7 C530.2 921.1 531.5 922.5 533.8 925 C536.1 927.5 539.2 932.9 541.7 935.8 C544.1 938.8 543.3 939.8 548.5 942.7 C553.8 945.7 565.8 950.4 573.2 953.5 C580.5 956.7 586.6 959 592.9 961.4 C599.1 963.9 606 966.3 610.6 968.3 C615.2 970.3 617.5 971.1 620.4 973.2 C623.4 975.4 628.1 981.1 628.3 981.1 C628.5 981.2 621.1 973 621.7 973.5 C622.2 974.1 627.6 980.3 631.5 984.4 C635.4 988.5 639.7 993.6 645.3 998.2 C650.9 1002.8 657.8 1007.5 665 1011.9 C672.2 1016.4 681.1 1020.5 688.6 1024.7 C696.2 1029 703.4 1033.8 710.3 1037.5 C717.2 1041.3 725.4 1045.1 730 1047.4 C734.6 1049.7 735.9 1049.5 737.9 1051.3 C739.8 1053.1 740.5 1054.9 741.8 1058.2 C743.1 1061.5 744.7 1067.4 745.7 1071 C746.7 1074.6 747.9 1078 747.7 1079.9 C747.5 1081.8 746.4 1082.1 744.7 1082.5 C743.1 1082.8 739 1082 737.9 1081.9" fill="none" stroke="#111" stroke-width="1.4" />
<path d="M465.8 926 C466 927.1 465.3 931.1 466.8 932.9 C468.3 934.7 470.1 935.5 474.7 936.8 C479.3 938.1 488.5 939.8 494.4 940.7 C500.3 941.7 505.9 942.4 510.1 942.7 C514.4 943 518.3 942.7 520 942.7" fill="none" stroke="#111" stroke-width="1.0" />
<path d="M465.8 926 C466.1 927.5 465.1 931.7 467.2 934.8 C469.3 938 472.5 940.2 478.6 945.1 C484.8 950 495 958.2 504.2 964.4 C513.4 970.5 524.3 976.5 533.8 982.1 C543.3 987.7 552.2 992.3 561.3 997.9 C570.5 1003.4 582.5 1011.9 588.9 1015.6 C595.4 1019.2 594.9 1017.1 600 1019.8 C605.1 1022.5 613.1 1028 619.7 1031.6 C626.3 1035.3 631.8 1037.9 639.4 1041.5 C646.9 1045.1 656.1 1049.4 665 1053.3 C673.9 1057.2 683.7 1061.7 692.6 1065.1 C701.4 1068.6 710.6 1071.2 718.2 1074 C725.7 1076.8 734.6 1080.5 737.9 1081.9" fill="none" stroke="#111" stroke-width="1.4" />
<path d="M528.3 953 C529.2 953.7 531.5 956.2 533.8 957.5 C536 958.7 535.1 958 541.7 960.4 C548.2 962.9 564.1 968.5 573.2 972.3 C582.2 976 592 981.3 595.8 983.1" fill="none" stroke="#111" stroke-width="1.0" />
<path d="M521 963.8 L596.8 996.3" fill="none" stroke="#111" stroke-width="1.0" />
<path d="M623.6 1008 C629.5 1011.6 649.2 1024.1 659.1 1029.7 C668.9 1035.3 676 1038.3 682.7 1041.5 C689.4 1044.7 696.7 1047.7 699.5 1049" fill="none" stroke="#111" stroke-width="1.0" />
<path d="M668.9 1053.7 L737.9 1079.3" fill="none" stroke="#111" stroke-width="1.0" />
<path d="M575.9 954.5 C577.5 953.3 581.9 949.7 585.5 947.5 C589.1 945.3 593.7 942.9 597.8 941.4 C601.9 939.9 605.9 939.2 610 938.8 C614.1 938.4 617.6 938.2 622.3 939.1 C627 940 631.3 941.4 638 944 C644.7 946.6 654.9 951.4 662.5 954.5 C670.1 957.6 677.2 960.2 683.5 962.4 C689.8 964.6 695.2 965.9 700 967.7 C704.8 969.5 710 972.1 712 973" fill="none" stroke="#111" stroke-width="1.7" />
<path d="M527.9 925 L522 938.8" fill="none" stroke="#111" stroke-width="1.0" />
<path d="M545.6 943.7 L536.7 952.6" fill="none" stroke="#111" stroke-width="1.0" />
<path d="M512.4 827.4 L505.6 834.2 L560.4 931.9 L549.5 937.8" fill="none" stroke="#111" stroke-width="1.25" />
<path d="M586.3 842.4 L573.2 849.2 L641.4 969.6 L629.5 976.1" fill="none" stroke="#111" stroke-width="1.25" />
<path d="M608.9 978.5 L618.7 973.5" fill="none" stroke="#111" stroke-width="1.0" />
<path d="M597.2 832.8 L609.5 826" stroke="#111" stroke-width="1.25"/>
<ellipse cx="521" cy="953" rx="5.4" ry="7.6" fill="#fff" stroke="#111" stroke-width="1.2" transform="rotate(-25 521 953)"/>
<ellipse cx="522.4" cy="952.2" rx="3.4" ry="5.2" fill="none" stroke="#111" stroke-width="1.0" transform="rotate(-25 522.4 952.2)"/>
<ellipse cx="601.7" cy="992.3" rx="6.8" ry="8.6" fill="#fff" stroke="#111" stroke-width="1.2" transform="rotate(-20 601.7 992.3)"/>
<path d="M596.8 995.9 L606.6 989" stroke="#111" stroke-width="0.9"/>
<path d="M603.7 988 L605.7 995.9" stroke="#111" stroke-width="0.9"/>
<path d="M601.7 1005.7 C602.2 1004.6 606 1005.5 607.6 1006.7 C609.3 1007.9 617.3 1015.5 618.5 1017.5 C619.6 1019.6 620 1026.6 619.4 1027.4 C618.9 1028.2 614.2 1026.4 612.5 1025.4 C610.9 1024.4 603.8 1019.5 602.7 1017.5 C601.6 1015.6 601.2 1006.8 601.7 1005.7Z" fill="none" stroke="#111" stroke-width="1.4" />
<path d="M603.1 1011.6 C604.3 1012.3 609 1015.3 610.6 1015.6 C612.2 1015.9 611.4 1012.8 612.5 1013.6 C613.7 1014.4 616.7 1019.4 617.5 1020.5" fill="none" stroke="#111" stroke-width="1.0" />
<path d="M634.5 1030.7 C634.7 1029.9 636.2 1028 639.4 1029.7 C642.5 1031.3 663.6 1045.2 666 1047.4 C668.3 1049.6 663.9 1051.1 663 1051.3 C662.1 1051.5 659.7 1050.7 657.1 1049.4 C654.6 1048 639.7 1039.4 637.4 1037.5 C635.2 1035.7 634.3 1031.4 634.5 1030.7Z" fill="none" stroke="#111" stroke-width="1.3" />
<path d="M637.4 1033.6 C638.4 1034.3 641.7 1037.2 643.3 1037.5 C645 1037.9 644 1033.8 647.3 1035.6 C650.5 1037.4 660.4 1046.2 663 1048.4" fill="none" stroke="#111" stroke-width="1.0" />
<path d="M684.7 939.1 C686.3 937.3 707.7 925.6 710.3 924.3 C712.8 923 715 922.9 715.2 923.3 C715.4 923.7 713.8 927.4 712.3 929.2 C710.7 931 698.3 943.6 696.5 945 C694.7 946.4 691.6 946.5 690.6 946 C689.6 945.5 683 940.9 684.7 939.1Z" fill="none" stroke="#111" stroke-width="1.8" />
<path d="M715.2 922.3 C717.3 921.5 725.2 917.9 728 917.4 C730.8 916.9 731.6 917.7 731.9 919.4 C732.3 921 732.3 923.7 730 927.3 C727.7 930.9 722.1 937.3 718.2 941.1 C714.2 944.8 709.6 948.3 706.3 949.9 C703.1 951.6 700.8 951.4 698.5 950.9 C696.2 950.4 693.5 947.6 692.6 947" fill="none" stroke="#111" stroke-width="1.0" />
<path d="M719.5 957.4 C722 953.5 749.7 921.5 753 918 C756.3 914.6 758.2 915.9 758.9 916 C759.7 916.2 764.3 916.2 761.9 920 C759.4 923.8 732.6 957.6 729.4 961.3 C726.2 965 724.3 964.6 723.5 964.3 C722.7 964 717.1 961.3 719.5 957.4Z" fill="none" stroke="#111" stroke-width="1.8" />
<path d="M761.9 916 C763.7 915.4 769.8 912.1 772.7 912.1 C775.7 912.1 778.9 913.4 779.6 916 C780.3 918.7 780.1 921.9 776.7 927.9 C773.2 933.8 765.2 944.9 758.9 951.5 C752.7 958.1 744.2 964.3 739.2 967.2 C734.3 970.2 731.8 969.5 729.4 969.2 C726.9 968.9 725.3 965.9 724.5 965.3" fill="none" stroke="#111" stroke-width="1.0" />
<path d="M750.1 977.1 C753.8 972.2 793.9 928.6 798.3 923.9 C802.7 919.2 802.6 920.8 803.2 921 C803.9 921.1 810 920.8 806.2 925.9 C802.4 931 762.4 977.3 757.9 982 C753.5 986.8 753.7 983.4 753 983 C752.4 982.6 746.3 982 750.1 977.1Z" fill="none" stroke="#111" stroke-width="1.8" />
<path d="M803.2 919 C805.4 919.2 812.6 918.8 816 920 C819.5 921.1 823.3 923.3 823.9 925.9 C824.6 928.5 823.9 930.5 820 935.7 C816 941 807.5 949.8 800.3 957.4 C793.1 964.9 782.6 976.1 776.7 981 C770.7 986 768.1 986.4 764.8 986.9 C761.6 987.4 758.3 984.5 757 984" fill="none" stroke="#111" stroke-width="1.0" />
<ellipse cx="812.1" cy="928.8" rx="5.6" ry="6.2" fill="none" stroke="#111" stroke-width="1.0"/>
<path d="M813.1 923.1 L816 934.7" stroke="#111" stroke-width="0.9"/>
<path d="M724.5 916 C725.3 915.1 726.6 911.6 729.4 910.1 C732.2 908.7 733.3 908 741.2 907.2 C749.1 906.4 770.7 905.5 776.7 905.2" fill="none" stroke="#111" stroke-width="1.0" />
<path d="M719.5 939.7 L724.5 947.5" stroke="#111" stroke-width="1.0"/>
<path d="M741.2 969.2 L749.1 978.1" stroke="#111" stroke-width="1.0"/>
<path d="M765.8 990.9 L772.7 995.8" stroke="#111" stroke-width="1.0"/>
<ellipse cx="709.7" cy="849.5" rx="6.4" ry="8" fill="#fff" stroke="#111" stroke-width="1.1" transform="rotate(-15 709.7 849.5)"/>
<path d="M700.8 840.4 L708.7 841.6 L711.2 857.3 L703.3 856.1 Z" fill="#fff" stroke="none" stroke-width="1.25" />
<path d="M700.8 840.4 L708.7 841.6" stroke="#111" stroke-width="1.1"/>
<path d="M703.3 856.1 L711.2 857.3" stroke="#111" stroke-width="1.1"/>
<ellipse cx="701.8" cy="848.3" rx="6.8" ry="8.3" fill="#fff" stroke="#111" stroke-width="1.3" transform="rotate(-15 701.8 848.3)"/>
<ellipse cx="701.8" cy="848.7" rx="3.4" ry="4" fill="none" stroke="#111" stroke-width="1.1"/>
<path d="M698.9 847.1 L705.4 850.1" stroke="#111" stroke-width="0.8"/>
<path d="M702.8 845.1 L700.8 852" stroke="#111" stroke-width="0.8"/>
<ellipse cx="795.4" cy="902.6" rx="6.4" ry="8" fill="#fff" stroke="#111" stroke-width="1.1" transform="rotate(-15 795.4 902.6)"/>
<path d="M785.9 896.3 L794.4 894.7 L796.9 910.4 L788.4 912 Z" fill="#fff" stroke="none" stroke-width="1.25" />
<path d="M785.9 896.3 L794.4 894.7" stroke="#111" stroke-width="1.1"/>
<path d="M788.4 912 L796.9 910.4" stroke="#111" stroke-width="1.1"/>
<ellipse cx="786.9" cy="904.2" rx="6.8" ry="8.3" fill="#fff" stroke="#111" stroke-width="1.3" transform="rotate(-15 786.9 904.2)"/>
<ellipse cx="786.9" cy="904.6" rx="1.9" ry="2.2" fill="none" stroke="#111" stroke-width="1.1"/>
<path d="M786.5 905.2 L767.8 916 L768.4 1019.8 L756.6 1025.3" fill="none" stroke="#111" stroke-width="1.25" />
<path d="M676.5 815.8 L691.5 807.5 L691.5 854.1 L697.2 851.8" fill="none" stroke="#111" stroke-width="1.25" />
<ellipse cx="517.4" cy="826.8" rx="4.6" ry="5.6" fill="#fff" stroke="#111" stroke-width="2.0" transform="rotate(-25 517.4 826.8)"/>
<ellipse cx="517.4" cy="826.8" rx="2.1" ry="2.5" fill="none" stroke="#111" stroke-width="1.0" transform="rotate(-25 517.4 826.8)"/>
<ellipse cx="590.9" cy="837.5" rx="4.6" ry="5.6" fill="#fff" stroke="#111" stroke-width="2.0" transform="rotate(-25 590.9 837.5)"/>
<ellipse cx="590.9" cy="837.5" rx="2.1" ry="2.5" fill="none" stroke="#111" stroke-width="1.0" transform="rotate(-25 590.9 837.5)"/>
<ellipse cx="670.3" cy="818.6" rx="4.6" ry="5.6" fill="#fff" stroke="#111" stroke-width="2.0" transform="rotate(-25 670.3 818.6)"/>
<ellipse cx="670.3" cy="818.6" rx="2.1" ry="2.5" fill="none" stroke="#111" stroke-width="1.0" transform="rotate(-25 670.3 818.6)"/>
<ellipse cx="750.7" cy="1029.3" rx="4.8" ry="6.2" fill="#fff" stroke="#111" stroke-width="1.3" transform="rotate(-20 750.7 1029.3)"/>
<path d="M751.6 1026.7 a2.2 3 -20 1 0 0.4 5" fill="none" stroke="#111" stroke-width="1.1" />
<path d="M762.3 810.9 L753.1 815.8 L754.9 819.3 L764.2 814.4 Z" fill="#fff" stroke="#111" stroke-width="1.2" />
<path d="M760 812.1 L761.9 815.6" stroke="#111" stroke-width="1.0"/>
<path d="M757.7 813.3 L759.6 816.9" stroke="#111" stroke-width="1.0"/>
<path d="M755.4 814.6 L757.3 818.1" stroke="#111" stroke-width="1.0"/>
<ellipse cx="763.3" cy="812.6" rx="2.6" ry="5.2" fill="#fff" stroke="#111" stroke-width="1.5" transform="rotate(152 763.3 812.6)"/>
<path d="M451.8 994 L462.5 988 L460.5 984.6 L449.8 990.6 Z" fill="#fff" stroke="#111" stroke-width="1.2" />
<path d="M454.5 992.5 L452.5 989.1" stroke="#111" stroke-width="1.0"/>
<path d="M457.1 991 L455.2 987.6" stroke="#111" stroke-width="1.0"/>
<path d="M459.8 989.5 L457.8 986.1" stroke="#111" stroke-width="1.0"/>
<ellipse cx="450.8" cy="992.3" rx="2.6" ry="5.2" fill="#fff" stroke="#111" stroke-width="1.5" transform="rotate(-29.3 450.8 992.3)"/>
</svg></body></html>
